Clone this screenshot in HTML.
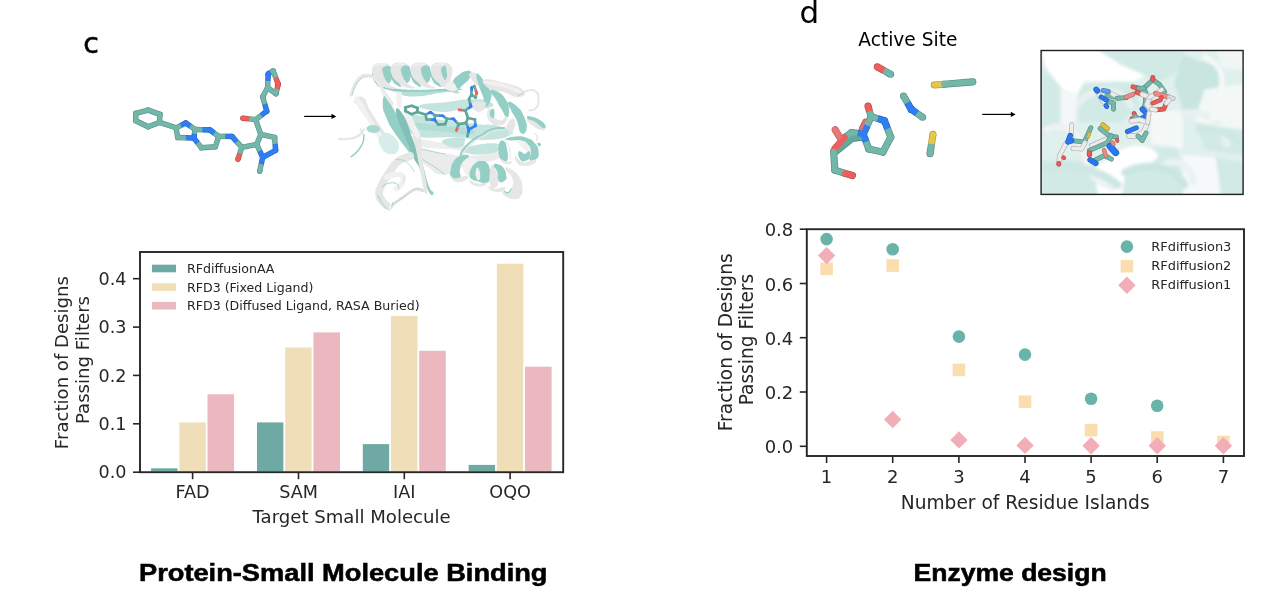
<!DOCTYPE html>
<html lang="en"><head><meta charset="utf-8"><title>Figure panels c and d</title>
<style>
html,body{margin:0;padding:0;background:#fff;}
body{width:1280px;height:604px;overflow:hidden;}
svg{display:block;filter:blur(0.45px);}
text{font-family:"DejaVu Sans","Liberation Sans",sans-serif;fill:#262626;}
.tk{font-size:17.6px;}
.tk2{font-size:18px;}
.al{font-size:18.1px;}
.al2{font-size:18.6px;}
.lg{font-size:12.6px;}
.lg2{font-size:12.95px;}
.ttl{font-family:"Liberation Sans","DejaVu Sans",sans-serif;font-weight:700;font-size:24px;fill:#000;stroke:#000;stroke-width:0.55px;}
.pl{font-family:"DejaVu Sans","Liberation Sans",sans-serif;fill:#000;}
</style></head><body>
<svg width="1280" height="604" viewBox="0 0 1280 604">
<defs>
<filter id="soft" x="-5%" y="-5%" width="110%" height="110%"><feGaussianBlur stdDeviation="0.6"/></filter>
<filter id="soft2" x="-5%" y="-5%" width="110%" height="110%"><feGaussianBlur stdDeviation="2.4"/></filter>
<filter id="soft3" x="-5%" y="-5%" width="110%" height="110%"><feGaussianBlur stdDeviation="6"/></filter>
<clipPath id="boxclip"><rect x="1041" y="50.5" width="202" height="144"/></clipPath>
</defs>
<rect width="1280" height="604" fill="#fff"/>

<text class="pl" x="83.3" y="53" font-size="28.5" stroke="#000" stroke-width="0.5">c</text>
<text class="pl" x="799.6" y="23" font-size="31">d</text>
<text class="pl" x="858.3" y="45.6" font-size="18.6">Active Site</text>
<g id="bars">
<rect x="150.3" y="467.5" width="28.2" height="4.7" fill="#6fa9a3" stroke="#fff" stroke-width="1.6"/>
<rect x="178.5" y="421.6" width="28.2" height="50.6" fill="#f0deb9" stroke="#fff" stroke-width="1.6"/>
<rect x="206.7" y="393.5" width="28.2" height="78.7" fill="#ecb8bf" stroke="#fff" stroke-width="1.6"/>
<rect x="256.2" y="421.6" width="28.2" height="50.6" fill="#6fa9a3" stroke="#fff" stroke-width="1.6"/>
<rect x="284.4" y="346.6" width="28.2" height="125.6" fill="#f0deb9" stroke="#fff" stroke-width="1.6"/>
<rect x="312.6" y="331.6" width="28.2" height="140.6" fill="#ecb8bf" stroke="#fff" stroke-width="1.6"/>
<rect x="362.0" y="443.3" width="28.2" height="28.9" fill="#6fa9a3" stroke="#fff" stroke-width="1.6"/>
<rect x="390.2" y="315.1" width="28.2" height="157.1" fill="#f0deb9" stroke="#fff" stroke-width="1.6"/>
<rect x="418.4" y="350.0" width="28.2" height="122.2" fill="#ecb8bf" stroke="#fff" stroke-width="1.6"/>
<rect x="467.8" y="464.1" width="28.2" height="8.1" fill="#6fa9a3" stroke="#fff" stroke-width="1.6"/>
<rect x="496.0" y="262.9" width="28.2" height="209.3" fill="#f0deb9" stroke="#fff" stroke-width="1.6"/>
<rect x="524.2" y="365.9" width="28.2" height="106.3" fill="#ecb8bf" stroke="#fff" stroke-width="1.6"/>
</g>
<rect x="140.0" y="252.0" width="423.2" height="220.2" fill="none" stroke="#262626" stroke-width="1.9"/>
<line x1="133.0" y1="472.2" x2="140.0" y2="472.2" stroke="#262626" stroke-width="1.6"/>
<text class="tk" x="126.5" y="478.4" text-anchor="end">0.0</text>
<line x1="133.0" y1="423.8" x2="140.0" y2="423.8" stroke="#262626" stroke-width="1.6"/>
<text class="tk" x="126.5" y="430.0" text-anchor="end">0.1</text>
<line x1="133.0" y1="375.4" x2="140.0" y2="375.4" stroke="#262626" stroke-width="1.6"/>
<text class="tk" x="126.5" y="381.6" text-anchor="end">0.2</text>
<line x1="133.0" y1="327.1" x2="140.0" y2="327.1" stroke="#262626" stroke-width="1.6"/>
<text class="tk" x="126.5" y="333.3" text-anchor="end">0.3</text>
<line x1="133.0" y1="278.7" x2="140.0" y2="278.7" stroke="#262626" stroke-width="1.6"/>
<text class="tk" x="126.5" y="284.9" text-anchor="end">0.4</text>
<line x1="192.6" y1="472.2" x2="192.6" y2="479.2" stroke="#262626" stroke-width="1.6"/>
<text class="tk" x="192.6" y="498.0" text-anchor="middle">FAD</text>
<line x1="298.5" y1="472.2" x2="298.5" y2="479.2" stroke="#262626" stroke-width="1.6"/>
<text class="tk" x="298.5" y="498.0" text-anchor="middle">SAM</text>
<line x1="404.3" y1="472.2" x2="404.3" y2="479.2" stroke="#262626" stroke-width="1.6"/>
<text class="tk" x="404.3" y="498.0" text-anchor="middle">IAI</text>
<line x1="510.1" y1="472.2" x2="510.1" y2="479.2" stroke="#262626" stroke-width="1.6"/>
<text class="tk" x="510.1" y="498.0" text-anchor="middle">OQO</text>
<text class="al" x="351.6" y="523.0" text-anchor="middle">Target Small Molecule</text>
<text class="al" transform="translate(68.3,362.6) rotate(-90)" text-anchor="middle">Fraction of Designs</text>
<text class="al" transform="translate(88.8,360.0) rotate(-90)" text-anchor="middle">Passing Filters</text>
<rect x="152" y="264.7" width="24" height="7.6" fill="#6fa9a3"/>
<text class="lg" x="187" y="273.0">RFdiffusionAA</text>
<rect x="152" y="283.3" width="24" height="7.6" fill="#f0deb9"/>
<text class="lg" x="187" y="291.6">RFD3 (Fixed Ligand)</text>
<rect x="152" y="301.9" width="24" height="7.6" fill="#ecb8bf"/>
<text class="lg" x="187" y="310.2">RFD3 (Diffused Ligand, RASA Buried)</text>
<text class="ttl" x="139" y="580.8" textLength="408.5" lengthAdjust="spacingAndGlyphs">Protein-Small Molecule Binding</text>
<rect x="806.8" y="229.2" width="437.2" height="226.8" fill="none" stroke="#262626" stroke-width="1.9"/>
<g id="pts">
<circle cx="826.6" cy="239.1" r="6.3" fill="#69b3a9"/>
<circle cx="892.7" cy="249.2" r="6.3" fill="#69b3a9"/>
<circle cx="958.9" cy="336.6" r="6.3" fill="#69b3a9"/>
<circle cx="1025.0" cy="354.6" r="6.3" fill="#69b3a9"/>
<circle cx="1091.1" cy="398.8" r="6.3" fill="#69b3a9"/>
<circle cx="1157.2" cy="405.7" r="6.3" fill="#69b3a9"/>
<rect x="820.3" y="262.5" width="12.6" height="12.6" fill="#fbdeb0"/>
<rect x="886.4" y="259.3" width="12.6" height="12.6" fill="#fbdeb0"/>
<rect x="952.6" y="363.6" width="12.6" height="12.6" fill="#fbdeb0"/>
<rect x="1018.7" y="395.4" width="12.6" height="12.6" fill="#fbdeb0"/>
<rect x="1084.8" y="423.8" width="12.6" height="12.6" fill="#fbdeb0"/>
<rect x="1151.0" y="431.2" width="12.6" height="12.6" fill="#fbdeb0"/>
<rect x="1217.1" y="435.7" width="12.6" height="12.6" fill="#fbdeb0"/>
<path d="M826.6 246.9L835.3 255.6L826.6 264.3L817.9 255.6Z" fill="#f3adb7"/>
<path d="M892.7 410.8L901.4 419.5L892.7 428.2L884.0 419.5Z" fill="#f3adb7"/>
<path d="M958.9 431.2L967.6 439.9L958.9 448.6L950.2 439.9Z" fill="#f3adb7"/>
<path d="M1025.0 436.7L1033.7 445.4L1025.0 454.1L1016.3 445.4Z" fill="#f3adb7"/>
<path d="M1091.1 437.0L1099.8 445.7L1091.1 454.4L1082.4 445.7Z" fill="#f3adb7"/>
<path d="M1157.2 437.0L1166.0 445.7L1157.2 454.4L1148.5 445.7Z" fill="#f3adb7"/>
<path d="M1223.4 437.0L1232.1 445.7L1223.4 454.4L1214.7 445.7Z" fill="#f3adb7"/>
</g>
<line x1="799.8" y1="446.3" x2="806.8" y2="446.3" stroke="#262626" stroke-width="1.6"/>
<text class="tk2" x="793.3" y="453.3" text-anchor="end">0.0</text>
<line x1="799.8" y1="392.0" x2="806.8" y2="392.0" stroke="#262626" stroke-width="1.6"/>
<text class="tk2" x="793.3" y="399.0" text-anchor="end">0.2</text>
<line x1="799.8" y1="337.7" x2="806.8" y2="337.7" stroke="#262626" stroke-width="1.6"/>
<text class="tk2" x="793.3" y="344.7" text-anchor="end">0.4</text>
<line x1="799.8" y1="283.5" x2="806.8" y2="283.5" stroke="#262626" stroke-width="1.6"/>
<text class="tk2" x="793.3" y="290.5" text-anchor="end">0.6</text>
<line x1="799.8" y1="229.2" x2="806.8" y2="229.2" stroke="#262626" stroke-width="1.6"/>
<text class="tk2" x="793.3" y="236.2" text-anchor="end">0.8</text>
<line x1="826.6" y1="456.0" x2="826.6" y2="463.0" stroke="#262626" stroke-width="1.6"/>
<text class="tk2" x="826.6" y="483.2" text-anchor="middle">1</text>
<line x1="892.7" y1="456.0" x2="892.7" y2="463.0" stroke="#262626" stroke-width="1.6"/>
<text class="tk2" x="892.7" y="483.2" text-anchor="middle">2</text>
<line x1="958.9" y1="456.0" x2="958.9" y2="463.0" stroke="#262626" stroke-width="1.6"/>
<text class="tk2" x="958.9" y="483.2" text-anchor="middle">3</text>
<line x1="1025.0" y1="456.0" x2="1025.0" y2="463.0" stroke="#262626" stroke-width="1.6"/>
<text class="tk2" x="1025.0" y="483.2" text-anchor="middle">4</text>
<line x1="1091.1" y1="456.0" x2="1091.1" y2="463.0" stroke="#262626" stroke-width="1.6"/>
<text class="tk2" x="1091.1" y="483.2" text-anchor="middle">5</text>
<line x1="1157.2" y1="456.0" x2="1157.2" y2="463.0" stroke="#262626" stroke-width="1.6"/>
<text class="tk2" x="1157.2" y="483.2" text-anchor="middle">6</text>
<line x1="1223.4" y1="456.0" x2="1223.4" y2="463.0" stroke="#262626" stroke-width="1.6"/>
<text class="tk2" x="1223.4" y="483.2" text-anchor="middle">7</text>
<text class="al2" x="1025.2" y="508.9" text-anchor="middle">Number of Residue Islands</text>
<text class="al2" transform="translate(731.7,342.3) rotate(-90)" text-anchor="middle">Fraction of Designs</text>
<text class="al2" transform="translate(752.9,339.6) rotate(-90)" text-anchor="middle">Passing Filters</text>
<circle cx="1126.9" cy="246.6" r="6.3" fill="#69b3a9"/>
<rect x="1120.6" y="259.9" width="12.6" height="12.6" fill="#fbdeb0"/>
<path d="M1126.9 276.5L1135.6 285.2L1126.9 293.9L1118.2 285.2Z" fill="#f3adb7"/>
<text class="lg2" x="1151.3" y="250.5">RFdiffusion3</text>
<text class="lg2" x="1151.3" y="269.6">RFdiffusion2</text>
<text class="lg2" x="1151.3" y="288.7">RFdiffusion1</text>
<text class="ttl" x="913.6" y="581.4" textLength="193" lengthAdjust="spacingAndGlyphs">Enzyme design</text>
<line x1="304.2" y1="116.4" x2="333.3" y2="116.4" stroke="#000" stroke-width="1.2"/><path d="M336.3 116.4L331.5 113.8L331.5 119.0Z" fill="#000"/>
<line x1="982.2" y1="114.4" x2="1012.6" y2="114.4" stroke="#000" stroke-width="1.2"/><path d="M1015.6 114.4L1010.8 111.8L1010.8 117.0Z" fill="#000"/>
<g id="ligand" filter="url(#soft)">
<line x1="135.8" y1="113.3" x2="148.1" y2="110.1" stroke="#588e84" stroke-width="5.4" stroke-linecap="round"/>
<line x1="148.1" y1="110.1" x2="160.0" y2="114.4" stroke="#588e84" stroke-width="5.4" stroke-linecap="round"/>
<line x1="160.0" y1="114.4" x2="159.4" y2="122.4" stroke="#588e84" stroke-width="5.4" stroke-linecap="round"/>
<line x1="159.4" y1="122.4" x2="148.1" y2="126.8" stroke="#588e84" stroke-width="5.4" stroke-linecap="round"/>
<line x1="148.1" y1="126.8" x2="135.8" y2="120.8" stroke="#588e84" stroke-width="5.4" stroke-linecap="round"/>
<line x1="135.8" y1="120.8" x2="135.8" y2="113.3" stroke="#588e84" stroke-width="5.4" stroke-linecap="round"/>
<line x1="159.4" y1="122.4" x2="176.1" y2="127.8" stroke="#588e84" stroke-width="5.4" stroke-linecap="round"/>
<circle cx="176.1" cy="127.8" r="2.70" fill="#588e84"/><circle cx="185.8" cy="123.0" r="2.70" fill="#2462be"/><line x1="176.1" y1="127.8" x2="181.1" y2="125.3" stroke="#588e84" stroke-width="5.4" stroke-linecap="butt"/><line x1="180.9" y1="125.4" x2="185.8" y2="123.0" stroke="#2462be" stroke-width="5.4" stroke-linecap="butt"/>
<circle cx="185.8" cy="123.0" r="2.70" fill="#2462be"/><circle cx="195.0" cy="129.4" r="2.70" fill="#588e84"/><line x1="185.8" y1="123.0" x2="190.5" y2="126.3" stroke="#2462be" stroke-width="5.4" stroke-linecap="butt"/><line x1="190.4" y1="126.2" x2="195.0" y2="129.4" stroke="#588e84" stroke-width="5.4" stroke-linecap="butt"/>
<circle cx="195.0" cy="129.4" r="2.70" fill="#588e84"/><circle cx="193.9" cy="138.1" r="2.70" fill="#2462be"/><line x1="195.0" y1="129.4" x2="194.4" y2="133.9" stroke="#588e84" stroke-width="5.4" stroke-linecap="butt"/><line x1="194.4" y1="133.8" x2="193.9" y2="138.1" stroke="#2462be" stroke-width="5.4" stroke-linecap="butt"/>
<circle cx="193.9" cy="138.1" r="2.70" fill="#2462be"/><circle cx="177.7" cy="137.5" r="2.70" fill="#588e84"/><line x1="193.9" y1="138.1" x2="185.7" y2="137.8" stroke="#2462be" stroke-width="5.4" stroke-linecap="butt"/><line x1="185.8" y1="137.8" x2="177.7" y2="137.5" stroke="#588e84" stroke-width="5.4" stroke-linecap="butt"/>
<line x1="177.7" y1="137.5" x2="176.1" y2="127.8" stroke="#588e84" stroke-width="5.4" stroke-linecap="round"/>
<circle cx="195.0" cy="129.4" r="2.70" fill="#588e84"/><circle cx="210.0" cy="130.0" r="2.70" fill="#2462be"/><line x1="195.0" y1="129.4" x2="202.6" y2="129.7" stroke="#588e84" stroke-width="5.4" stroke-linecap="butt"/><line x1="202.5" y1="129.7" x2="210.0" y2="130.0" stroke="#2462be" stroke-width="5.4" stroke-linecap="butt"/>
<circle cx="210.0" cy="130.0" r="2.70" fill="#2462be"/><circle cx="218.7" cy="136.4" r="2.70" fill="#588e84"/><line x1="210.0" y1="130.0" x2="214.5" y2="133.3" stroke="#2462be" stroke-width="5.4" stroke-linecap="butt"/><line x1="214.3" y1="133.2" x2="218.7" y2="136.4" stroke="#588e84" stroke-width="5.4" stroke-linecap="butt"/>
<line x1="218.7" y1="136.4" x2="215.4" y2="146.7" stroke="#588e84" stroke-width="5.4" stroke-linecap="round"/>
<line x1="215.4" y1="146.7" x2="201.4" y2="147.7" stroke="#588e84" stroke-width="5.4" stroke-linecap="round"/>
<circle cx="201.4" cy="147.7" r="2.70" fill="#588e84"/><circle cx="193.9" cy="138.1" r="2.70" fill="#2462be"/><line x1="201.4" y1="147.7" x2="197.6" y2="142.8" stroke="#588e84" stroke-width="5.4" stroke-linecap="butt"/><line x1="197.7" y1="142.9" x2="193.9" y2="138.1" stroke="#2462be" stroke-width="5.4" stroke-linecap="butt"/>
<circle cx="218.7" cy="136.4" r="2.70" fill="#588e84"/><circle cx="231.9" cy="136.4" r="2.70" fill="#2462be"/><line x1="218.7" y1="136.4" x2="225.5" y2="136.4" stroke="#588e84" stroke-width="5.4" stroke-linecap="butt"/><line x1="225.3" y1="136.4" x2="231.9" y2="136.4" stroke="#2462be" stroke-width="5.4" stroke-linecap="butt"/>
<circle cx="231.9" cy="136.4" r="2.70" fill="#2462be"/><circle cx="241.8" cy="147.3" r="2.70" fill="#588e84"/><line x1="231.9" y1="136.4" x2="237.0" y2="142.0" stroke="#2462be" stroke-width="5.4" stroke-linecap="butt"/><line x1="236.9" y1="141.9" x2="241.8" y2="147.3" stroke="#588e84" stroke-width="5.4" stroke-linecap="butt"/>
<circle cx="241.8" cy="147.3" r="2.70" fill="#588e84"/><circle cx="237.9" cy="159.3" r="2.70" fill="#b84a47"/><line x1="241.8" y1="147.3" x2="239.8" y2="153.4" stroke="#588e84" stroke-width="5.4" stroke-linecap="butt"/><line x1="239.9" y1="153.3" x2="237.9" y2="159.3" stroke="#b84a47" stroke-width="5.4" stroke-linecap="butt"/>
<line x1="241.8" y1="147.3" x2="256.7" y2="144.4" stroke="#588e84" stroke-width="5.4" stroke-linecap="round"/>
<line x1="256.7" y1="144.4" x2="260.7" y2="134.4" stroke="#588e84" stroke-width="5.4" stroke-linecap="round"/>
<line x1="260.7" y1="134.4" x2="274.6" y2="137.4" stroke="#588e84" stroke-width="5.4" stroke-linecap="round"/>
<circle cx="274.6" cy="137.4" r="2.70" fill="#588e84"/><circle cx="275.6" cy="150.3" r="2.70" fill="#2462be"/><line x1="274.6" y1="137.4" x2="275.1" y2="144.0" stroke="#588e84" stroke-width="5.4" stroke-linecap="butt"/><line x1="275.1" y1="143.9" x2="275.6" y2="150.3" stroke="#2462be" stroke-width="5.4" stroke-linecap="butt"/>
<line x1="275.6" y1="150.3" x2="262.7" y2="157.3" stroke="#2462be" stroke-width="5.4" stroke-linecap="round"/>
<circle cx="262.7" cy="157.3" r="2.70" fill="#2462be"/><circle cx="256.7" cy="144.4" r="2.70" fill="#588e84"/><line x1="262.7" y1="157.3" x2="259.6" y2="150.7" stroke="#2462be" stroke-width="5.4" stroke-linecap="butt"/><line x1="259.7" y1="150.9" x2="256.7" y2="144.4" stroke="#588e84" stroke-width="5.4" stroke-linecap="butt"/>
<circle cx="262.7" cy="157.3" r="2.70" fill="#2462be"/><circle cx="259.7" cy="171.2" r="2.70" fill="#588e84"/><line x1="262.7" y1="157.3" x2="261.2" y2="164.4" stroke="#2462be" stroke-width="5.4" stroke-linecap="butt"/><line x1="261.2" y1="164.2" x2="259.7" y2="171.2" stroke="#588e84" stroke-width="5.4" stroke-linecap="butt"/>
<line x1="260.7" y1="134.4" x2="255.7" y2="119.6" stroke="#588e84" stroke-width="5.4" stroke-linecap="round"/>
<circle cx="255.7" cy="119.6" r="2.70" fill="#588e84"/><circle cx="242.8" cy="118.2" r="2.70" fill="#b84a47"/><line x1="255.7" y1="119.6" x2="249.1" y2="118.9" stroke="#588e84" stroke-width="5.4" stroke-linecap="butt"/><line x1="249.2" y1="118.9" x2="242.8" y2="118.2" stroke="#b84a47" stroke-width="5.4" stroke-linecap="butt"/>
<circle cx="255.7" cy="119.6" r="2.70" fill="#588e84"/><circle cx="266.7" cy="111.2" r="2.70" fill="#2462be"/><line x1="255.7" y1="119.6" x2="261.3" y2="115.3" stroke="#588e84" stroke-width="5.4" stroke-linecap="butt"/><line x1="261.2" y1="115.4" x2="266.7" y2="111.2" stroke="#2462be" stroke-width="5.4" stroke-linecap="butt"/>
<circle cx="266.7" cy="111.2" r="2.70" fill="#2462be"/><circle cx="262.7" cy="96.7" r="2.70" fill="#588e84"/><line x1="266.7" y1="111.2" x2="264.7" y2="103.8" stroke="#2462be" stroke-width="5.4" stroke-linecap="butt"/><line x1="264.7" y1="104.0" x2="262.7" y2="96.7" stroke="#588e84" stroke-width="5.4" stroke-linecap="butt"/>
<line x1="262.7" y1="96.7" x2="267.6" y2="87.8" stroke="#588e84" stroke-width="5.4" stroke-linecap="round"/>
<circle cx="267.6" cy="87.8" r="2.70" fill="#588e84"/><circle cx="268.2" cy="73.9" r="2.70" fill="#2462be"/><line x1="267.6" y1="87.8" x2="267.9" y2="80.7" stroke="#588e84" stroke-width="5.4" stroke-linecap="butt"/><line x1="267.9" y1="80.8" x2="268.2" y2="73.9" stroke="#2462be" stroke-width="5.4" stroke-linecap="butt"/>
<circle cx="268.2" cy="73.9" r="2.70" fill="#2462be"/><circle cx="273.2" cy="70.9" r="2.70" fill="#588e84"/><line x1="268.2" y1="73.9" x2="270.8" y2="72.3" stroke="#2462be" stroke-width="5.4" stroke-linecap="butt"/><line x1="270.7" y1="72.4" x2="273.2" y2="70.9" stroke="#588e84" stroke-width="5.4" stroke-linecap="butt"/>
<circle cx="273.2" cy="70.9" r="2.70" fill="#588e84"/><circle cx="278.2" cy="84.2" r="2.70" fill="#b84a47"/><line x1="273.2" y1="70.9" x2="275.8" y2="77.7" stroke="#588e84" stroke-width="5.4" stroke-linecap="butt"/><line x1="275.7" y1="77.6" x2="278.2" y2="84.2" stroke="#b84a47" stroke-width="5.4" stroke-linecap="butt"/>
<circle cx="278.2" cy="84.2" r="2.70" fill="#b84a47"/><circle cx="276.0" cy="93.7" r="2.70" fill="#588e84"/><line x1="278.2" y1="84.2" x2="277.1" y2="89.1" stroke="#b84a47" stroke-width="5.4" stroke-linecap="butt"/><line x1="277.1" y1="89.0" x2="276.0" y2="93.7" stroke="#588e84" stroke-width="5.4" stroke-linecap="butt"/>
<line x1="276.0" y1="93.7" x2="267.6" y2="87.8" stroke="#588e84" stroke-width="5.4" stroke-linecap="round"/>
<line x1="135.8" y1="113.3" x2="148.1" y2="110.1" stroke="#72b7aa" stroke-width="4.2" stroke-linecap="round"/>
<line x1="148.1" y1="110.1" x2="160.0" y2="114.4" stroke="#72b7aa" stroke-width="4.2" stroke-linecap="round"/>
<line x1="160.0" y1="114.4" x2="159.4" y2="122.4" stroke="#72b7aa" stroke-width="4.2" stroke-linecap="round"/>
<line x1="159.4" y1="122.4" x2="148.1" y2="126.8" stroke="#72b7aa" stroke-width="4.2" stroke-linecap="round"/>
<line x1="148.1" y1="126.8" x2="135.8" y2="120.8" stroke="#72b7aa" stroke-width="4.2" stroke-linecap="round"/>
<line x1="135.8" y1="120.8" x2="135.8" y2="113.3" stroke="#72b7aa" stroke-width="4.2" stroke-linecap="round"/>
<line x1="159.4" y1="122.4" x2="176.1" y2="127.8" stroke="#72b7aa" stroke-width="4.2" stroke-linecap="round"/>
<circle cx="176.1" cy="127.8" r="2.10" fill="#72b7aa"/><circle cx="185.8" cy="123.0" r="2.10" fill="#2f7ef4"/><line x1="176.1" y1="127.8" x2="181.1" y2="125.3" stroke="#72b7aa" stroke-width="4.2" stroke-linecap="butt"/><line x1="180.9" y1="125.4" x2="185.8" y2="123.0" stroke="#2f7ef4" stroke-width="4.2" stroke-linecap="butt"/>
<circle cx="185.8" cy="123.0" r="2.10" fill="#2f7ef4"/><circle cx="195.0" cy="129.4" r="2.10" fill="#72b7aa"/><line x1="185.8" y1="123.0" x2="190.5" y2="126.3" stroke="#2f7ef4" stroke-width="4.2" stroke-linecap="butt"/><line x1="190.4" y1="126.2" x2="195.0" y2="129.4" stroke="#72b7aa" stroke-width="4.2" stroke-linecap="butt"/>
<circle cx="195.0" cy="129.4" r="2.10" fill="#72b7aa"/><circle cx="193.9" cy="138.1" r="2.10" fill="#2f7ef4"/><line x1="195.0" y1="129.4" x2="194.4" y2="133.9" stroke="#72b7aa" stroke-width="4.2" stroke-linecap="butt"/><line x1="194.4" y1="133.8" x2="193.9" y2="138.1" stroke="#2f7ef4" stroke-width="4.2" stroke-linecap="butt"/>
<circle cx="193.9" cy="138.1" r="2.10" fill="#2f7ef4"/><circle cx="177.7" cy="137.5" r="2.10" fill="#72b7aa"/><line x1="193.9" y1="138.1" x2="185.7" y2="137.8" stroke="#2f7ef4" stroke-width="4.2" stroke-linecap="butt"/><line x1="185.8" y1="137.8" x2="177.7" y2="137.5" stroke="#72b7aa" stroke-width="4.2" stroke-linecap="butt"/>
<line x1="177.7" y1="137.5" x2="176.1" y2="127.8" stroke="#72b7aa" stroke-width="4.2" stroke-linecap="round"/>
<circle cx="195.0" cy="129.4" r="2.10" fill="#72b7aa"/><circle cx="210.0" cy="130.0" r="2.10" fill="#2f7ef4"/><line x1="195.0" y1="129.4" x2="202.6" y2="129.7" stroke="#72b7aa" stroke-width="4.2" stroke-linecap="butt"/><line x1="202.5" y1="129.7" x2="210.0" y2="130.0" stroke="#2f7ef4" stroke-width="4.2" stroke-linecap="butt"/>
<circle cx="210.0" cy="130.0" r="2.10" fill="#2f7ef4"/><circle cx="218.7" cy="136.4" r="2.10" fill="#72b7aa"/><line x1="210.0" y1="130.0" x2="214.5" y2="133.3" stroke="#2f7ef4" stroke-width="4.2" stroke-linecap="butt"/><line x1="214.3" y1="133.2" x2="218.7" y2="136.4" stroke="#72b7aa" stroke-width="4.2" stroke-linecap="butt"/>
<line x1="218.7" y1="136.4" x2="215.4" y2="146.7" stroke="#72b7aa" stroke-width="4.2" stroke-linecap="round"/>
<line x1="215.4" y1="146.7" x2="201.4" y2="147.7" stroke="#72b7aa" stroke-width="4.2" stroke-linecap="round"/>
<circle cx="201.4" cy="147.7" r="2.10" fill="#72b7aa"/><circle cx="193.9" cy="138.1" r="2.10" fill="#2f7ef4"/><line x1="201.4" y1="147.7" x2="197.6" y2="142.8" stroke="#72b7aa" stroke-width="4.2" stroke-linecap="butt"/><line x1="197.7" y1="142.9" x2="193.9" y2="138.1" stroke="#2f7ef4" stroke-width="4.2" stroke-linecap="butt"/>
<circle cx="218.7" cy="136.4" r="2.10" fill="#72b7aa"/><circle cx="231.9" cy="136.4" r="2.10" fill="#2f7ef4"/><line x1="218.7" y1="136.4" x2="225.5" y2="136.4" stroke="#72b7aa" stroke-width="4.2" stroke-linecap="butt"/><line x1="225.3" y1="136.4" x2="231.9" y2="136.4" stroke="#2f7ef4" stroke-width="4.2" stroke-linecap="butt"/>
<circle cx="231.9" cy="136.4" r="2.10" fill="#2f7ef4"/><circle cx="241.8" cy="147.3" r="2.10" fill="#72b7aa"/><line x1="231.9" y1="136.4" x2="237.0" y2="142.0" stroke="#2f7ef4" stroke-width="4.2" stroke-linecap="butt"/><line x1="236.9" y1="141.9" x2="241.8" y2="147.3" stroke="#72b7aa" stroke-width="4.2" stroke-linecap="butt"/>
<circle cx="241.8" cy="147.3" r="2.10" fill="#72b7aa"/><circle cx="237.9" cy="159.3" r="2.10" fill="#ec5f5c"/><line x1="241.8" y1="147.3" x2="239.8" y2="153.4" stroke="#72b7aa" stroke-width="4.2" stroke-linecap="butt"/><line x1="239.9" y1="153.3" x2="237.9" y2="159.3" stroke="#ec5f5c" stroke-width="4.2" stroke-linecap="butt"/>
<line x1="241.8" y1="147.3" x2="256.7" y2="144.4" stroke="#72b7aa" stroke-width="4.2" stroke-linecap="round"/>
<line x1="256.7" y1="144.4" x2="260.7" y2="134.4" stroke="#72b7aa" stroke-width="4.2" stroke-linecap="round"/>
<line x1="260.7" y1="134.4" x2="274.6" y2="137.4" stroke="#72b7aa" stroke-width="4.2" stroke-linecap="round"/>
<circle cx="274.6" cy="137.4" r="2.10" fill="#72b7aa"/><circle cx="275.6" cy="150.3" r="2.10" fill="#2f7ef4"/><line x1="274.6" y1="137.4" x2="275.1" y2="144.0" stroke="#72b7aa" stroke-width="4.2" stroke-linecap="butt"/><line x1="275.1" y1="143.9" x2="275.6" y2="150.3" stroke="#2f7ef4" stroke-width="4.2" stroke-linecap="butt"/>
<line x1="275.6" y1="150.3" x2="262.7" y2="157.3" stroke="#2f7ef4" stroke-width="4.2" stroke-linecap="round"/>
<circle cx="262.7" cy="157.3" r="2.10" fill="#2f7ef4"/><circle cx="256.7" cy="144.4" r="2.10" fill="#72b7aa"/><line x1="262.7" y1="157.3" x2="259.6" y2="150.7" stroke="#2f7ef4" stroke-width="4.2" stroke-linecap="butt"/><line x1="259.7" y1="150.9" x2="256.7" y2="144.4" stroke="#72b7aa" stroke-width="4.2" stroke-linecap="butt"/>
<circle cx="262.7" cy="157.3" r="2.10" fill="#2f7ef4"/><circle cx="259.7" cy="171.2" r="2.10" fill="#72b7aa"/><line x1="262.7" y1="157.3" x2="261.2" y2="164.4" stroke="#2f7ef4" stroke-width="4.2" stroke-linecap="butt"/><line x1="261.2" y1="164.2" x2="259.7" y2="171.2" stroke="#72b7aa" stroke-width="4.2" stroke-linecap="butt"/>
<line x1="260.7" y1="134.4" x2="255.7" y2="119.6" stroke="#72b7aa" stroke-width="4.2" stroke-linecap="round"/>
<circle cx="255.7" cy="119.6" r="2.10" fill="#72b7aa"/><circle cx="242.8" cy="118.2" r="2.10" fill="#ec5f5c"/><line x1="255.7" y1="119.6" x2="249.1" y2="118.9" stroke="#72b7aa" stroke-width="4.2" stroke-linecap="butt"/><line x1="249.2" y1="118.9" x2="242.8" y2="118.2" stroke="#ec5f5c" stroke-width="4.2" stroke-linecap="butt"/>
<circle cx="255.7" cy="119.6" r="2.10" fill="#72b7aa"/><circle cx="266.7" cy="111.2" r="2.10" fill="#2f7ef4"/><line x1="255.7" y1="119.6" x2="261.3" y2="115.3" stroke="#72b7aa" stroke-width="4.2" stroke-linecap="butt"/><line x1="261.2" y1="115.4" x2="266.7" y2="111.2" stroke="#2f7ef4" stroke-width="4.2" stroke-linecap="butt"/>
<circle cx="266.7" cy="111.2" r="2.10" fill="#2f7ef4"/><circle cx="262.7" cy="96.7" r="2.10" fill="#72b7aa"/><line x1="266.7" y1="111.2" x2="264.7" y2="103.8" stroke="#2f7ef4" stroke-width="4.2" stroke-linecap="butt"/><line x1="264.7" y1="104.0" x2="262.7" y2="96.7" stroke="#72b7aa" stroke-width="4.2" stroke-linecap="butt"/>
<line x1="262.7" y1="96.7" x2="267.6" y2="87.8" stroke="#72b7aa" stroke-width="4.2" stroke-linecap="round"/>
<circle cx="267.6" cy="87.8" r="2.10" fill="#72b7aa"/><circle cx="268.2" cy="73.9" r="2.10" fill="#2f7ef4"/><line x1="267.6" y1="87.8" x2="267.9" y2="80.7" stroke="#72b7aa" stroke-width="4.2" stroke-linecap="butt"/><line x1="267.9" y1="80.8" x2="268.2" y2="73.9" stroke="#2f7ef4" stroke-width="4.2" stroke-linecap="butt"/>
<circle cx="268.2" cy="73.9" r="2.10" fill="#2f7ef4"/><circle cx="273.2" cy="70.9" r="2.10" fill="#72b7aa"/><line x1="268.2" y1="73.9" x2="270.8" y2="72.3" stroke="#2f7ef4" stroke-width="4.2" stroke-linecap="butt"/><line x1="270.7" y1="72.4" x2="273.2" y2="70.9" stroke="#72b7aa" stroke-width="4.2" stroke-linecap="butt"/>
<circle cx="273.2" cy="70.9" r="2.10" fill="#72b7aa"/><circle cx="278.2" cy="84.2" r="2.10" fill="#ec5f5c"/><line x1="273.2" y1="70.9" x2="275.8" y2="77.7" stroke="#72b7aa" stroke-width="4.2" stroke-linecap="butt"/><line x1="275.7" y1="77.6" x2="278.2" y2="84.2" stroke="#ec5f5c" stroke-width="4.2" stroke-linecap="butt"/>
<circle cx="278.2" cy="84.2" r="2.10" fill="#ec5f5c"/><circle cx="276.0" cy="93.7" r="2.10" fill="#72b7aa"/><line x1="278.2" y1="84.2" x2="277.1" y2="89.1" stroke="#ec5f5c" stroke-width="4.2" stroke-linecap="butt"/><line x1="277.1" y1="89.0" x2="276.0" y2="93.7" stroke="#72b7aa" stroke-width="4.2" stroke-linecap="butt"/>
<line x1="276.0" y1="93.7" x2="267.6" y2="87.8" stroke="#72b7aa" stroke-width="4.2" stroke-linecap="round"/>
</g>
<g id="active" filter="url(#soft)">
<circle cx="877.3" cy="66.8" r="3.55" fill="#b84a47"/><circle cx="890.6" cy="74.3" r="3.55" fill="#588e84"/><line x1="877.3" y1="66.8" x2="884.1" y2="70.6" stroke="#b84a47" stroke-width="7.1" stroke-linecap="butt"/><line x1="884.0" y1="70.5" x2="890.6" y2="74.3" stroke="#588e84" stroke-width="7.1" stroke-linecap="butt"/>
<line x1="934.3" y1="85.0" x2="944.0" y2="84.2" stroke="#b39c39" stroke-width="7.1" stroke-linecap="round"/>
<line x1="944.0" y1="84.2" x2="972.8" y2="81.9" stroke="#588e84" stroke-width="7.1" stroke-linecap="round"/>
<circle cx="903.5" cy="96.0" r="3.55" fill="#588e84"/><circle cx="911.3" cy="109.4" r="3.55" fill="#2462be"/><line x1="903.5" y1="96.0" x2="907.5" y2="102.8" stroke="#588e84" stroke-width="7.1" stroke-linecap="butt"/><line x1="907.4" y1="102.7" x2="911.3" y2="109.4" stroke="#2462be" stroke-width="7.1" stroke-linecap="butt"/>
<circle cx="911.3" cy="109.4" r="3.55" fill="#2462be"/><circle cx="922.6" cy="117.2" r="3.55" fill="#588e84"/><line x1="911.3" y1="109.4" x2="917.1" y2="113.4" stroke="#2462be" stroke-width="7.1" stroke-linecap="butt"/><line x1="917.0" y1="113.3" x2="922.6" y2="117.2" stroke="#588e84" stroke-width="7.1" stroke-linecap="butt"/>
<circle cx="933.0" cy="134.3" r="3.55" fill="#b39c39"/><circle cx="930.0" cy="153.7" r="3.55" fill="#588e84"/><line x1="933.0" y1="134.3" x2="931.5" y2="144.1" stroke="#b39c39" stroke-width="7.1" stroke-linecap="butt"/><line x1="931.5" y1="144.0" x2="930.0" y2="153.7" stroke="#588e84" stroke-width="7.1" stroke-linecap="butt"/>
<line x1="865.6" y1="122.3" x2="862.5" y2="128.5" stroke="#b45754" stroke-width="7.1" stroke-linecap="round"/>
<line x1="840.5" y1="138.5" x2="835.2" y2="129.8" stroke="#b45e5c" stroke-width="7.1" stroke-linecap="round"/>
<line x1="863.3" y1="137.0" x2="852.0" y2="138.5" stroke="#4d8379" stroke-width="7.1" stroke-linecap="round"/>
<line x1="852.0" y1="138.5" x2="836.5" y2="151.0" stroke="#4d8379" stroke-width="7.1" stroke-linecap="round"/>
<circle cx="871.1" cy="116.7" r="3.55" fill="#588e84"/><circle cx="884.5" cy="120.7" r="3.55" fill="#2462be"/><line x1="871.1" y1="116.7" x2="877.9" y2="118.7" stroke="#588e84" stroke-width="7.1" stroke-linecap="butt"/><line x1="877.8" y1="118.7" x2="884.5" y2="120.7" stroke="#2462be" stroke-width="7.1" stroke-linecap="butt"/>
<circle cx="884.5" cy="120.7" r="3.55" fill="#2462be"/><circle cx="890.8" cy="137.2" r="3.55" fill="#588e84"/><line x1="884.5" y1="120.7" x2="887.7" y2="129.1" stroke="#2462be" stroke-width="7.1" stroke-linecap="butt"/><line x1="887.6" y1="128.9" x2="890.8" y2="137.2" stroke="#588e84" stroke-width="7.1" stroke-linecap="butt"/>
<line x1="890.8" y1="137.2" x2="882.9" y2="152.1" stroke="#588e84" stroke-width="7.1" stroke-linecap="round"/>
<line x1="882.9" y1="152.1" x2="868.8" y2="149.0" stroke="#588e84" stroke-width="7.1" stroke-linecap="round"/>
<circle cx="868.8" cy="149.0" r="3.55" fill="#588e84"/><circle cx="863.3" cy="134.1" r="3.55" fill="#2462be"/><line x1="868.8" y1="149.0" x2="866.0" y2="141.4" stroke="#588e84" stroke-width="7.1" stroke-linecap="butt"/><line x1="866.0" y1="141.6" x2="863.3" y2="134.1" stroke="#2462be" stroke-width="7.1" stroke-linecap="butt"/>
<circle cx="863.3" cy="134.1" r="3.55" fill="#2462be"/><circle cx="871.1" cy="116.7" r="3.55" fill="#588e84"/><line x1="863.3" y1="134.1" x2="867.3" y2="125.3" stroke="#2462be" stroke-width="7.1" stroke-linecap="butt"/><line x1="867.2" y1="125.4" x2="871.1" y2="116.7" stroke="#588e84" stroke-width="7.1" stroke-linecap="butt"/>
<circle cx="871.1" cy="116.7" r="3.55" fill="#588e84"/><circle cx="868.0" cy="106.0" r="3.55" fill="#b84a47"/><line x1="871.1" y1="116.7" x2="869.5" y2="111.2" stroke="#588e84" stroke-width="7.1" stroke-linecap="butt"/><line x1="869.5" y1="111.3" x2="868.0" y2="106.0" stroke="#b84a47" stroke-width="7.1" stroke-linecap="butt"/>
<circle cx="863.3" cy="134.1" r="3.55" fill="#2462be"/><circle cx="851.5" cy="132.5" r="3.55" fill="#588e84"/><line x1="863.3" y1="134.1" x2="857.3" y2="133.3" stroke="#2462be" stroke-width="7.1" stroke-linecap="butt"/><line x1="857.4" y1="133.3" x2="851.5" y2="132.5" stroke="#588e84" stroke-width="7.1" stroke-linecap="butt"/>
<line x1="851.5" y1="132.5" x2="845.0" y2="137.3" stroke="#588e84" stroke-width="7.1" stroke-linecap="round"/>
<line x1="845.0" y1="137.3" x2="835.0" y2="148.5" stroke="#b84a47" stroke-width="7.1" stroke-linecap="round"/>
<line x1="833.6" y1="151.5" x2="834.9" y2="170.2" stroke="#588e84" stroke-width="7.1" stroke-linecap="round"/>
<line x1="834.9" y1="170.2" x2="845.0" y2="173.3" stroke="#588e84" stroke-width="7.1" stroke-linecap="round"/>
<line x1="845.0" y1="173.3" x2="852.5" y2="175.5" stroke="#b84a47" stroke-width="7.1" stroke-linecap="round"/>
<circle cx="877.3" cy="66.8" r="2.85" fill="#ec5f5c"/><circle cx="890.6" cy="74.3" r="2.85" fill="#72b7aa"/><line x1="877.3" y1="66.8" x2="884.1" y2="70.6" stroke="#ec5f5c" stroke-width="5.7" stroke-linecap="butt"/><line x1="884.0" y1="70.5" x2="890.6" y2="74.3" stroke="#72b7aa" stroke-width="5.7" stroke-linecap="butt"/>
<line x1="934.3" y1="85.0" x2="944.0" y2="84.2" stroke="#e6c84a" stroke-width="5.7" stroke-linecap="round"/>
<line x1="944.0" y1="84.2" x2="972.8" y2="81.9" stroke="#72b7aa" stroke-width="5.7" stroke-linecap="round"/>
<circle cx="903.5" cy="96.0" r="2.85" fill="#72b7aa"/><circle cx="911.3" cy="109.4" r="2.85" fill="#2f7ef4"/><line x1="903.5" y1="96.0" x2="907.5" y2="102.8" stroke="#72b7aa" stroke-width="5.7" stroke-linecap="butt"/><line x1="907.4" y1="102.7" x2="911.3" y2="109.4" stroke="#2f7ef4" stroke-width="5.7" stroke-linecap="butt"/>
<circle cx="911.3" cy="109.4" r="2.85" fill="#2f7ef4"/><circle cx="922.6" cy="117.2" r="2.85" fill="#72b7aa"/><line x1="911.3" y1="109.4" x2="917.1" y2="113.4" stroke="#2f7ef4" stroke-width="5.7" stroke-linecap="butt"/><line x1="917.0" y1="113.3" x2="922.6" y2="117.2" stroke="#72b7aa" stroke-width="5.7" stroke-linecap="butt"/>
<circle cx="933.0" cy="134.3" r="2.85" fill="#e6c84a"/><circle cx="930.0" cy="153.7" r="2.85" fill="#72b7aa"/><line x1="933.0" y1="134.3" x2="931.5" y2="144.1" stroke="#e6c84a" stroke-width="5.7" stroke-linecap="butt"/><line x1="931.5" y1="144.0" x2="930.0" y2="153.7" stroke="#72b7aa" stroke-width="5.7" stroke-linecap="butt"/>
<line x1="865.6" y1="122.3" x2="862.5" y2="128.5" stroke="#e8706c" stroke-width="5.7" stroke-linecap="round"/>
<line x1="840.5" y1="138.5" x2="835.2" y2="129.8" stroke="#e87976" stroke-width="5.7" stroke-linecap="round"/>
<line x1="863.3" y1="137.0" x2="852.0" y2="138.5" stroke="#63a89c" stroke-width="5.7" stroke-linecap="round"/>
<line x1="852.0" y1="138.5" x2="836.5" y2="151.0" stroke="#63a89c" stroke-width="5.7" stroke-linecap="round"/>
<circle cx="871.1" cy="116.7" r="2.85" fill="#72b7aa"/><circle cx="884.5" cy="120.7" r="2.85" fill="#2f7ef4"/><line x1="871.1" y1="116.7" x2="877.9" y2="118.7" stroke="#72b7aa" stroke-width="5.7" stroke-linecap="butt"/><line x1="877.8" y1="118.7" x2="884.5" y2="120.7" stroke="#2f7ef4" stroke-width="5.7" stroke-linecap="butt"/>
<circle cx="884.5" cy="120.7" r="2.85" fill="#2f7ef4"/><circle cx="890.8" cy="137.2" r="2.85" fill="#72b7aa"/><line x1="884.5" y1="120.7" x2="887.7" y2="129.1" stroke="#2f7ef4" stroke-width="5.7" stroke-linecap="butt"/><line x1="887.6" y1="128.9" x2="890.8" y2="137.2" stroke="#72b7aa" stroke-width="5.7" stroke-linecap="butt"/>
<line x1="890.8" y1="137.2" x2="882.9" y2="152.1" stroke="#72b7aa" stroke-width="5.7" stroke-linecap="round"/>
<line x1="882.9" y1="152.1" x2="868.8" y2="149.0" stroke="#72b7aa" stroke-width="5.7" stroke-linecap="round"/>
<circle cx="868.8" cy="149.0" r="2.85" fill="#72b7aa"/><circle cx="863.3" cy="134.1" r="2.85" fill="#2f7ef4"/><line x1="868.8" y1="149.0" x2="866.0" y2="141.4" stroke="#72b7aa" stroke-width="5.7" stroke-linecap="butt"/><line x1="866.0" y1="141.6" x2="863.3" y2="134.1" stroke="#2f7ef4" stroke-width="5.7" stroke-linecap="butt"/>
<circle cx="863.3" cy="134.1" r="2.85" fill="#2f7ef4"/><circle cx="871.1" cy="116.7" r="2.85" fill="#72b7aa"/><line x1="863.3" y1="134.1" x2="867.3" y2="125.3" stroke="#2f7ef4" stroke-width="5.7" stroke-linecap="butt"/><line x1="867.2" y1="125.4" x2="871.1" y2="116.7" stroke="#72b7aa" stroke-width="5.7" stroke-linecap="butt"/>
<circle cx="871.1" cy="116.7" r="2.85" fill="#72b7aa"/><circle cx="868.0" cy="106.0" r="2.85" fill="#ec5f5c"/><line x1="871.1" y1="116.7" x2="869.5" y2="111.2" stroke="#72b7aa" stroke-width="5.7" stroke-linecap="butt"/><line x1="869.5" y1="111.3" x2="868.0" y2="106.0" stroke="#ec5f5c" stroke-width="5.7" stroke-linecap="butt"/>
<circle cx="863.3" cy="134.1" r="2.85" fill="#2f7ef4"/><circle cx="851.5" cy="132.5" r="2.85" fill="#72b7aa"/><line x1="863.3" y1="134.1" x2="857.3" y2="133.3" stroke="#2f7ef4" stroke-width="5.7" stroke-linecap="butt"/><line x1="857.4" y1="133.3" x2="851.5" y2="132.5" stroke="#72b7aa" stroke-width="5.7" stroke-linecap="butt"/>
<line x1="851.5" y1="132.5" x2="845.0" y2="137.3" stroke="#72b7aa" stroke-width="5.7" stroke-linecap="round"/>
<line x1="845.0" y1="137.3" x2="835.0" y2="148.5" stroke="#ec5f5c" stroke-width="5.7" stroke-linecap="round"/>
<line x1="833.6" y1="151.5" x2="834.9" y2="170.2" stroke="#72b7aa" stroke-width="5.7" stroke-linecap="round"/>
<line x1="834.9" y1="170.2" x2="845.0" y2="173.3" stroke="#72b7aa" stroke-width="5.7" stroke-linecap="round"/>
<line x1="845.0" y1="173.3" x2="852.5" y2="175.5" stroke="#ec5f5c" stroke-width="5.7" stroke-linecap="round"/>
</g>
<g id="protein" transform="translate(330,50) scale(0.28153)" filter="url(#soft2)" fill="none" stroke-linecap="round" stroke-linejoin="round">
<path d="M320.0 196.0 C335.6 188.9 360.5 191.6 408.5 186.0 C456.5 180.4 458.3 175.9 500.0 175.0 C541.7 174.1 547.7 174.5 565.0 182.5 C582.3 190.5 589.0 197.7 565.0 205.0 C541.0 212.3 516.7 206.0 475.0 210.0 C433.3 214.0 441.8 219.3 408.5 220.0 C375.2 220.7 373.6 218.9 350.0 212.5 C326.4 206.1 304.4 203.1 320.0 196.0 Z" fill="#c4e5df" stroke="none"/>
<path d="M280.0 235.0 C308.9 221.1 349.8 243.3 408.5 250.0 C467.2 256.7 442.3 252.0 500.0 260.0 C557.7 268.0 589.0 268.0 625.0 280.0 C661.0 292.0 655.0 294.3 635.0 305.0 C615.0 315.7 599.3 318.7 550.0 320.0 C500.7 321.3 516.7 314.8 450.0 310.0 C383.3 305.2 345.3 322.0 300.0 302.0 C254.7 282.0 251.1 248.9 280.0 235.0 Z" fill="#c4e5df" stroke="none"/>
<path d="M300.0 260.0 C326.3 257.3 355.2 264.7 408.5 270.0 C461.8 275.3 475.6 272.0 500.0 280.0 C524.4 288.0 526.7 297.3 500.0 300.0 C473.3 302.7 450.7 295.3 400.0 290.0 C349.3 284.7 336.7 288.0 310.0 280.0 C283.3 272.0 273.7 262.7 300.0 260.0 Z" fill="#b3dcd5" stroke="none"/>
<path d="M210.0 135.0 C227.3 133.7 247.1 143.7 300.0 145.0 C352.9 146.3 368.5 140.7 408.5 140.0 C448.5 139.3 438.9 138.5 450.0 142.5 C461.1 146.5 461.1 153.0 450.0 155.0 C438.9 157.0 448.5 147.3 408.5 150.0 C368.5 152.7 346.3 165.0 300.0 165.0 C253.7 165.0 259.0 158.0 235.0 150.0 C211.0 142.0 192.7 136.3 210.0 135.0 Z" fill="#b7ded7" stroke="none"/>
<path d="M320.0 351.9 C342.3 346.6 360.5 360.2 408.5 366.9 C456.5 373.6 451.6 378.2 500.0 376.9 C548.4 375.6 564.7 359.2 590.0 361.9 C615.3 364.6 619.0 374.9 595.0 386.9 C571.0 398.9 549.7 392.2 500.0 406.9 C450.3 421.6 448.5 439.2 408.5 441.9 C368.5 444.6 372.3 431.6 350.0 416.9 C327.7 402.2 333.0 404.2 325.0 386.9 C317.0 369.6 297.7 357.2 320.0 351.9 Z" fill="#ebebeb" stroke="none"/>
<path d="M310.0 316.9 C333.6 314.2 357.8 325.2 408.5 331.9 C459.2 338.6 475.6 335.2 500.0 341.9 C524.4 348.6 524.4 354.2 500.0 356.9 C475.6 359.6 456.5 355.9 408.5 351.9 C360.5 347.9 346.3 351.2 320.0 341.9 C293.7 332.6 286.4 319.6 310.0 316.9 Z" fill="#eeeeee" stroke="none"/>
<path d="M483.5 346.9 C511.5 337.6 562.8 329.2 593.5 331.9 C624.2 334.6 610.5 346.9 598.5 356.9 C586.5 366.9 577.8 366.7 548.5 369.4 C519.2 372.1 505.8 372.9 488.5 366.9 C471.2 360.9 455.5 356.2 483.5 346.9 Z" fill="#c4e5df" stroke="none"/>
<path d="M408.5 316.9 C424.5 310.2 449.8 309.2 468.5 311.9 C487.2 314.6 481.2 317.6 478.5 326.9 C475.8 336.2 477.2 344.2 458.5 346.9 C439.8 349.6 421.8 344.9 408.5 336.9 C395.2 328.9 392.5 323.6 408.5 316.9 Z" fill="#c4e5df" stroke="none"/>
<path d="M325.0 386.9 C337.0 394.2 347.7 399.7 370.0 414.4 C392.3 429.1 398.2 434.6 408.5 441.9" stroke="#94cfc5" stroke-width="3.0"/>
<path d="M320.0 349.4 C332.0 352.5 341.4 355.6 365.0 360.9 C388.6 366.2 396.9 367.1 408.5 369.4" stroke="#94cfc5" stroke-width="2.5"/>
<path d="M85.0 180.0 C89.7 171.3 102.8 159.5 117.5 167.5 C132.2 175.5 127.3 188.0 140.0 210.0 C152.7 232.0 149.0 226.0 165.0 250.0 C181.0 274.0 181.3 273.3 200.0 300.0 C218.7 326.7 232.3 334.0 235.0 350.0 C237.7 366.0 227.3 373.3 210.0 360.0 C192.7 346.7 190.0 329.3 170.0 300.0 C150.0 270.7 153.7 276.7 135.0 250.0 C116.3 223.3 113.3 218.7 100.0 200.0 C86.7 181.3 80.3 188.7 85.0 180.0 Z" fill="#e6e6e6" stroke="none"/>
<path d="M90.0 182.5 C81.3 160.1 91.5 158.0 107.5 176.0 C123.5 194.0 128.0 214.3 150.0 250.0 C172.0 285.7 183.3 292.7 190.0 310.0 C196.7 327.3 188.3 328.3 175.0 315.0 C161.7 301.7 162.7 295.3 140.0 260.0 C117.3 224.7 98.7 204.9 90.0 182.5 Z" fill="#f1f1f1" stroke="none"/>
<path d="M180.0 145.0 C182.0 141.0 185.5 135.3 197.5 150.0 C209.5 164.7 219.0 184.0 225.0 200.0 C231.0 216.0 229.3 219.3 220.0 210.0 C210.7 200.7 200.7 182.3 190.0 165.0 C179.3 147.7 178.0 149.0 180.0 145.0 Z" fill="#f1f1f1" stroke="none"/>
<path d="M235.0 142.5 C239.7 140.5 247.8 127.2 252.5 142.5 C257.2 157.8 255.8 183.3 252.5 200.0 C249.2 216.7 244.7 218.3 240.0 205.0 C235.3 191.7 236.3 166.7 235.0 150.0 C233.7 133.3 230.3 144.5 235.0 142.5 Z" fill="#f1f1f1" stroke="none"/>
<path d="M131.0 274.0 C136.3 267.3 153.0 264.5 165.0 268.0 C177.0 271.5 181.3 280.3 176.0 287.0 C170.7 293.7 157.0 296.5 145.0 293.0 C133.0 289.5 125.7 280.7 131.0 274.0 Z" fill="#a9d9d1" stroke="none"/>
<path d="M107.5 280.0 C109.2 283.3 110.7 286.6 114.0 292.5 C117.3 298.4 118.4 299.5 120.0 302.0" stroke="#e6e6e6" stroke-width="5.0"/>
<path d="M32.5 316.9 C43.8 316.2 55.7 318.4 75.0 314.4 C94.3 310.4 93.0 310.6 105.0 301.9 C117.0 293.2 116.0 287.2 120.0 281.9" stroke="#e6e6e6" stroke-width="8.0"/>
<path d="M120.0 301.9 C119.3 308.6 122.8 312.2 117.5 326.9 C112.2 341.6 111.3 342.9 100.0 356.9 C88.7 370.9 81.7 373.4 75.0 379.4" stroke="#94cfc5" stroke-width="5.0"/>
<path d="M185.0 301.9 C197.0 293.9 204.0 289.9 220.0 301.9 C236.0 313.9 247.7 328.9 245.0 346.9 C242.3 364.9 228.7 373.4 210.0 369.4 C191.3 365.4 181.7 349.9 175.0 331.9 C168.3 313.9 173.0 309.9 185.0 301.9 Z" fill="#d6ede9" stroke="none"/>
<path d="M187.5 190.0 C187.5 170.0 190.0 159.7 200.0 165.0 C210.0 170.3 203.7 173.5 225.0 210.0 C246.3 246.5 254.7 256.7 280.0 302.0 C305.3 347.3 301.3 332.5 320.0 380.0 C338.7 427.5 337.3 446.7 350.0 480.0 C362.7 513.3 366.4 497.3 367.5 505.0 C368.6 512.7 364.0 523.7 354.0 509.0 C344.0 494.3 344.4 481.7 330.0 450.0 C315.6 418.3 325.3 429.5 300.0 390.0 C274.7 350.5 261.7 342.0 235.0 302.0 C208.3 262.0 212.7 269.9 200.0 240.0 C187.3 210.1 187.5 210.0 187.5 190.0 Z" fill="#94cfc5" stroke="none"/>
<path d="M235.0 225.0 C229.7 195.7 244.0 204.7 260.0 230.0 C276.0 255.3 277.7 274.7 295.0 320.0 C312.3 365.3 320.3 377.3 325.0 400.0 C329.7 422.7 324.5 421.0 312.5 405.0 C300.5 389.0 300.7 388.0 280.0 340.0 C259.3 292.0 240.3 254.3 235.0 225.0 Z" fill="#80c0b6" stroke="none"/>
<path d="M295.0 301.9 C299.0 288.6 310.7 275.2 320.0 301.9 C329.3 328.6 323.3 351.2 330.0 401.9 C336.7 452.6 343.7 465.2 345.0 491.9 C346.3 518.6 341.7 519.2 335.0 501.9 C328.3 484.6 328.0 466.9 320.0 426.9 C312.0 386.9 311.7 385.2 305.0 351.9 C298.3 318.6 291.0 315.2 295.0 301.9 Z" fill="#e6e6e6" stroke="none"/>
<path d="M260.0 215.0 C254.7 191.8 269.3 203.0 280.0 215.0 C290.7 227.0 289.3 236.8 300.0 260.0 C310.7 283.2 320.0 290.8 320.0 302.0 C320.0 313.2 316.0 325.2 300.0 302.0 C284.0 278.8 265.3 238.2 260.0 215.0 Z" fill="#f1f1f1" stroke="none"/>
<path d="M285.0 376.9 C273.0 382.2 260.0 380.9 240.0 396.9 C220.0 412.9 224.7 415.6 210.0 436.9 C195.3 458.2 194.3 455.6 185.0 476.9 C175.7 498.2 171.0 496.9 175.0 516.9 C179.0 536.9 193.3 542.6 200.0 551.9" stroke="#e6e6e6" stroke-width="27.5"/>
<path d="M200.0 451.9 C209.3 449.2 219.0 441.9 235.0 441.9 C251.0 441.9 256.0 441.2 260.0 451.9 C264.0 462.6 256.7 471.2 250.0 481.9 C243.3 492.6 239.0 489.2 235.0 491.9" stroke="#f1f1f1" stroke-width="19.0"/>
<path d="M220.0 551.9 C230.7 543.9 238.7 536.6 260.0 521.9 C281.3 507.2 280.7 502.9 300.0 496.9 C319.3 490.9 323.8 498.7 332.5 499.4" stroke="#e6e6e6" stroke-width="11.0"/>
<path d="M185.0 486.9 C190.3 483.6 191.7 477.7 205.0 474.4 C218.3 471.1 224.3 469.7 235.0 474.4 C245.7 479.1 242.3 487.2 245.0 491.9" stroke="#94cfc5" stroke-width="3.0"/>
<path d="M170.0 516.9 C176.7 527.6 183.0 544.2 195.0 556.9 C207.0 569.6 207.7 568.4 215.0 564.4 C222.3 560.4 220.5 547.9 222.5 541.9" stroke="#94cfc5" stroke-width="3.0"/>
<path d="M225.0 546.9 C237.0 538.9 248.7 531.6 270.0 516.9 C291.3 502.2 289.0 495.9 305.0 491.9 C321.0 487.9 323.3 499.2 330.0 501.9" stroke="#94cfc5" stroke-width="2.5"/>
<path d="M235.0 389.4 C244.3 391.4 252.7 385.6 270.0 396.9 C287.3 408.2 292.0 422.6 300.0 431.9" stroke="#94cfc5" stroke-width="2.5"/>
<path d="M257.5 446.9 C259.2 449.6 263.3 450.2 264.0 456.9 C264.7 463.6 261.1 467.9 260.0 471.9" stroke="#d6d6d6" stroke-width="2.5"/>
<path d="M165.0 124.0 C163.7 121.6 174.0 129.3 210.0 134.0 C246.0 138.7 247.1 140.4 300.0 141.5 C352.9 142.6 368.5 139.5 408.5 138.0 C448.5 136.5 438.9 134.7 450.0 136.0 C461.1 137.3 490.0 139.7 450.0 143.0 C410.0 146.3 362.7 148.5 300.0 148.5 C237.3 148.5 251.0 149.5 215.0 143.0 C179.0 136.5 166.3 126.4 165.0 124.0 Z" fill="#94cfc5" stroke="none"/>
<path d="M187.5 62.5 C193.9 56.4 201.3 54.3 210.0 57.0 C218.7 59.7 217.1 62.4 220.0 72.5 C222.9 82.6 223.7 82.9 221.0 95.0 C218.3 107.1 216.3 114.7 210.0 118.0 C203.7 121.3 203.9 117.6 197.5 107.5 C191.1 97.4 188.7 92.0 186.0 80.0 C183.3 68.0 181.1 68.6 187.5 62.5 Z" fill="#94cfc5" stroke="none"/>
<path d="M150.0 67.5 C152.0 60.2 149.5 58.2 157.5 52.5 C165.5 46.8 167.3 46.7 180.0 46.0 C192.7 45.3 197.0 47.3 205.0 50.0 C213.0 52.7 212.0 54.9 210.0 56.0 C208.0 57.1 203.5 52.3 197.5 54.0 C191.5 55.7 190.6 55.6 187.5 62.5 C184.4 69.4 183.3 68.0 186.0 80.0 C188.7 92.0 188.4 94.8 197.5 107.5 C206.6 120.2 209.3 120.2 220.0 127.5 C230.7 134.8 238.8 132.3 237.5 135.0 C236.2 137.7 229.0 140.2 215.0 137.5 C201.0 134.8 199.7 135.0 185.0 125.0 C170.3 115.0 169.3 112.0 160.0 100.0 C150.7 88.0 152.7 88.7 150.0 80.0 C147.3 71.3 148.0 74.8 150.0 67.5 Z" fill="#e6e6e6" stroke="none"/>
<path d="M150.0 80.0 C151.3 78.0 150.7 88.0 160.0 100.0 C169.3 112.0 180.7 117.5 185.0 125.0 C189.3 132.5 184.0 132.7 176.0 128.0 C168.0 123.3 161.9 120.3 155.0 107.5 C148.1 94.7 148.7 82.0 150.0 80.0 Z" fill="#94cfc5" stroke="none"/>
<path d="M160.0 56.0 C164.7 54.4 167.5 51.2 177.5 50.0 C187.5 48.8 192.2 51.1 197.5 51.5" stroke="#f1f1f1" stroke-width="5.0"/>
<path d="M209.0 56.0 C206.1 55.6 203.5 52.6 198.0 54.5 C192.5 56.4 191.4 56.2 188.5 63.0 C185.6 69.8 184.7 68.5 187.0 80.0 C189.3 91.5 194.3 99.1 197.0 106.0" stroke="#d6d6d6" stroke-width="2.0"/>
<path d="M253.5 61.0 C259.9 54.9 267.3 52.8 276.0 55.5 C284.7 58.2 283.1 60.9 286.0 71.0 C288.9 81.1 289.7 81.4 287.0 93.5 C284.3 105.6 282.3 113.2 276.0 116.5 C269.7 119.8 269.9 116.1 263.5 106.0 C257.1 95.9 254.7 90.5 252.0 78.5 C249.3 66.5 247.1 67.1 253.5 61.0 Z" fill="#94cfc5" stroke="none"/>
<path d="M216.0 66.0 C218.0 58.7 215.5 56.7 223.5 51.0 C231.5 45.3 233.3 45.2 246.0 44.5 C258.7 43.8 263.0 45.8 271.0 48.5 C279.0 51.2 278.0 53.4 276.0 54.5 C274.0 55.6 269.5 50.8 263.5 52.5 C257.5 54.2 256.6 54.1 253.5 61.0 C250.4 67.9 249.3 66.5 252.0 78.5 C254.7 90.5 254.4 93.3 263.5 106.0 C272.6 118.7 275.3 118.7 286.0 126.0 C296.7 133.3 304.8 130.8 303.5 133.5 C302.2 136.2 295.0 138.7 281.0 136.0 C267.0 133.3 265.7 133.5 251.0 123.5 C236.3 113.5 235.3 110.5 226.0 98.5 C216.7 86.5 218.7 87.2 216.0 78.5 C213.3 69.8 214.0 73.3 216.0 66.0 Z" fill="#e6e6e6" stroke="none"/>
<path d="M216.0 80.0 C217.3 78.0 216.7 88.0 226.0 100.0 C235.3 112.0 246.7 117.5 251.0 125.0 C255.3 132.5 250.0 132.7 242.0 128.0 C234.0 123.3 227.9 120.3 221.0 107.5 C214.1 94.7 214.7 82.0 216.0 80.0 Z" fill="#94cfc5" stroke="none"/>
<path d="M226.0 56.0 C230.7 54.4 233.5 51.2 243.5 50.0 C253.5 48.8 258.2 51.1 263.5 51.5" stroke="#f1f1f1" stroke-width="5.0"/>
<path d="M275.0 56.0 C272.1 55.6 269.5 52.6 264.0 54.5 C258.5 56.4 257.4 56.2 254.5 63.0 C251.6 69.8 250.7 68.5 253.0 80.0 C255.3 91.5 260.3 99.1 263.0 106.0" stroke="#d6d6d6" stroke-width="2.0"/>
<path d="M324.5 61.0 C330.9 54.9 338.3 52.8 347.0 55.5 C355.7 58.2 354.1 60.9 357.0 71.0 C359.9 81.1 360.7 81.4 358.0 93.5 C355.3 105.6 353.3 113.2 347.0 116.5 C340.7 119.8 340.9 116.1 334.5 106.0 C328.1 95.9 325.7 90.5 323.0 78.5 C320.3 66.5 318.1 67.1 324.5 61.0 Z" fill="#94cfc5" stroke="none"/>
<path d="M287.0 66.0 C289.0 58.7 286.5 56.7 294.5 51.0 C302.5 45.3 304.3 45.2 317.0 44.5 C329.7 43.8 334.0 45.8 342.0 48.5 C350.0 51.2 349.0 53.4 347.0 54.5 C345.0 55.6 340.5 50.8 334.5 52.5 C328.5 54.2 327.6 54.1 324.5 61.0 C321.4 67.9 320.3 66.5 323.0 78.5 C325.7 90.5 325.4 93.3 334.5 106.0 C343.6 118.7 346.3 118.7 357.0 126.0 C367.7 133.3 375.8 130.8 374.5 133.5 C373.2 136.2 366.0 138.7 352.0 136.0 C338.0 133.3 336.7 133.5 322.0 123.5 C307.3 113.5 306.3 110.5 297.0 98.5 C287.7 86.5 289.7 87.2 287.0 78.5 C284.3 69.8 285.0 73.3 287.0 66.0 Z" fill="#e6e6e6" stroke="none"/>
<path d="M287.0 80.0 C288.3 78.0 287.7 88.0 297.0 100.0 C306.3 112.0 317.7 117.5 322.0 125.0 C326.3 132.5 321.0 132.7 313.0 128.0 C305.0 123.3 298.9 120.3 292.0 107.5 C285.1 94.7 285.7 82.0 287.0 80.0 Z" fill="#94cfc5" stroke="none"/>
<path d="M297.0 56.0 C301.7 54.4 304.5 51.2 314.5 50.0 C324.5 48.8 329.2 51.1 334.5 51.5" stroke="#f1f1f1" stroke-width="5.0"/>
<path d="M346.0 56.0 C343.1 55.6 340.5 52.6 335.0 54.5 C329.5 56.4 328.4 56.2 325.5 63.0 C322.6 69.8 321.7 68.5 324.0 80.0 C326.3 91.5 331.3 99.1 334.0 106.0" stroke="#d6d6d6" stroke-width="2.0"/>
<path d="M396.0 61.0 C402.4 54.9 409.8 52.8 418.5 55.5 C427.2 58.2 425.6 60.9 428.5 71.0 C431.4 81.1 432.2 81.4 429.5 93.5 C426.8 105.6 424.8 113.2 418.5 116.5 C412.2 119.8 412.4 116.1 406.0 106.0 C399.6 95.9 397.2 90.5 394.5 78.5 C391.8 66.5 389.6 67.1 396.0 61.0 Z" fill="#94cfc5" stroke="none"/>
<path d="M358.5 66.0 C360.5 58.7 358.0 56.7 366.0 51.0 C374.0 45.3 375.8 45.2 388.5 44.5 C401.2 43.8 405.5 45.8 413.5 48.5 C421.5 51.2 420.5 53.4 418.5 54.5 C416.5 55.6 412.0 50.8 406.0 52.5 C400.0 54.2 399.1 54.1 396.0 61.0 C392.9 67.9 391.8 66.5 394.5 78.5 C397.2 90.5 396.9 93.3 406.0 106.0 C415.1 118.7 417.8 118.7 428.5 126.0 C439.2 133.3 447.3 130.8 446.0 133.5 C444.7 136.2 437.5 138.7 423.5 136.0 C409.5 133.3 408.2 133.5 393.5 123.5 C378.8 113.5 377.8 110.5 368.5 98.5 C359.2 86.5 361.2 87.2 358.5 78.5 C355.8 69.8 356.5 73.3 358.5 66.0 Z" fill="#e6e6e6" stroke="none"/>
<path d="M358.5 80.0 C359.8 78.0 359.2 88.0 368.5 100.0 C377.8 112.0 389.2 117.5 393.5 125.0 C397.8 132.5 392.5 132.7 384.5 128.0 C376.5 123.3 370.4 120.3 363.5 107.5 C356.6 94.7 357.2 82.0 358.5 80.0 Z" fill="#94cfc5" stroke="none"/>
<path d="M368.5 56.0 C373.2 54.4 376.0 51.2 386.0 50.0 C396.0 48.8 400.7 51.1 406.0 51.5" stroke="#f1f1f1" stroke-width="5.0"/>
<path d="M417.5 56.0 C414.6 55.6 412.0 52.6 406.5 54.5 C401.0 56.4 399.9 56.2 397.0 63.0 C394.1 69.8 393.2 68.5 395.5 80.0 C397.8 91.5 402.8 99.1 405.5 106.0" stroke="#d6d6d6" stroke-width="2.0"/>
<path d="M75.0 160.0 C78.3 150.7 78.8 141.7 87.5 125.0 C96.2 108.3 96.2 106.8 107.5 97.5 C118.8 88.2 117.3 90.0 130.0 90.0 C142.7 90.0 143.0 89.5 155.0 97.5 C167.0 105.5 164.3 104.7 175.0 120.0 C185.7 135.3 183.0 136.3 195.0 155.0 C207.0 173.7 213.3 180.7 220.0 190.0" stroke="#e6e6e6" stroke-width="11.0"/>
<path d="M79.0 159.0 C82.2 150.6 82.7 142.7 91.0 127.5 C99.3 112.3 99.3 110.7 110.0 102.0 C120.7 93.3 125.4 96.9 131.0 95.0" stroke="#94cfc5" stroke-width="2.5"/>
<path d="M150.0 98.0 C156.0 103.9 161.2 104.8 172.5 120.0 C183.8 135.2 180.9 136.3 192.5 155.0 C204.1 173.7 209.7 180.7 216.0 190.0" stroke="#f1f1f1" stroke-width="4.0"/>
<path d="M408.5 47.5 C412.5 43.5 421.8 45.0 428.5 55.0 C435.2 65.0 436.2 66.3 433.5 85.0 C430.8 103.7 425.2 113.0 418.5 125.0 C411.8 137.0 415.2 130.0 408.5 130.0 C401.8 130.0 392.2 133.0 393.5 125.0 C394.8 117.0 408.2 114.7 413.5 100.0 C418.8 85.3 414.8 84.0 413.5 70.0 C412.2 56.0 404.5 51.5 408.5 47.5 Z" fill="#e6e6e6" stroke="none"/>
<path d="M408.5 127.5 C411.2 117.5 428.5 108.2 438.5 107.5 C448.5 106.8 441.3 117.0 446.0 125.0 C450.7 133.0 460.7 132.2 456.0 137.5 C451.3 142.8 441.2 147.7 428.5 145.0 C415.8 142.3 405.8 137.5 408.5 127.5 Z" fill="#f1f1f1" stroke="none"/>
<path d="M438.5 107.5 C441.8 97.5 446.5 96.2 458.5 87.5 C470.5 78.8 472.2 77.3 483.5 75.0 C494.8 72.7 497.7 72.3 501.0 79.0 C504.3 85.7 503.3 88.4 496.0 100.0 C488.7 111.6 484.2 112.5 473.5 122.5 C462.8 132.5 463.3 136.8 456.0 137.5 C448.7 138.2 450.7 133.0 446.0 125.0 C441.3 117.0 435.2 117.5 438.5 107.5 Z" fill="#94cfc5" stroke="none"/>
<path d="M496.0 82.5 C502.7 79.2 517.3 76.2 526.0 87.5 C534.7 98.8 531.8 116.3 528.5 125.0 C525.2 133.7 520.8 126.7 513.5 120.0 C506.2 113.3 505.7 110.0 501.0 100.0 C496.3 90.0 489.3 85.8 496.0 82.5 Z" fill="#e6e6e6" stroke="none"/>
<path d="M521.0 85.0 C525.0 79.7 530.8 89.0 543.5 105.0 C556.2 121.0 561.2 126.3 568.5 145.0 C575.8 163.7 575.0 160.3 571.0 175.0 C567.0 189.7 560.8 202.7 553.5 200.0 C546.2 197.3 550.2 185.0 543.5 165.0 C536.8 145.0 534.5 146.3 528.5 125.0 C522.5 103.7 517.0 90.3 521.0 85.0 Z" fill="#94cfc5" stroke="none"/>
<path d="M503.5 190.0 C512.2 182.0 535.8 182.3 548.5 185.0 C561.2 187.7 553.7 191.3 551.0 200.0 C548.3 208.7 547.8 213.5 538.5 217.5 C529.2 221.5 525.3 222.3 516.0 215.0 C506.7 207.7 494.8 198.0 503.5 190.0 Z" fill="#e6e6e6" stroke="none"/>
<path d="M546.0 106.0 C559.3 99.3 585.5 107.1 623.5 117.5 C661.5 127.9 676.5 131.7 688.5 145.0 C700.5 158.3 687.2 166.2 668.5 167.5 C649.8 168.8 643.8 156.7 618.5 150.0 C593.2 143.3 592.8 154.2 573.5 142.5 C554.2 130.8 532.7 112.7 546.0 106.0 Z" fill="#e6e6e6" stroke="none"/>
<path d="M553.5 110.0 C569.5 110.0 590.2 112.9 623.5 122.5 C656.8 132.1 665.8 138.0 678.5 146.0 C691.2 154.0 687.0 155.7 671.0 152.5 C655.0 149.3 647.2 142.0 618.5 134.0 C589.8 126.0 580.8 128.9 563.5 122.5 C546.2 116.1 537.5 110.0 553.5 110.0 Z" fill="#f1f1f1" stroke="none"/>
<path d="M668.5 162.5 C671.8 160.5 675.7 158.7 681.0 155.0 C686.3 151.3 686.5 150.2 688.5 148.5" stroke="#94cfc5" stroke-width="3.0"/>
<path d="M688.5 150.0 C695.2 148.0 701.5 142.5 713.5 142.5 C725.5 142.5 726.2 141.3 733.5 150.0 C740.8 158.7 741.0 160.3 741.0 175.0 C741.0 189.7 742.2 194.3 733.5 205.0 C724.8 215.7 715.2 212.3 708.5 215.0" stroke="#e6e6e6" stroke-width="7.0"/>
<path d="M568.5 145.0 C571.2 138.3 583.8 142.0 598.5 150.0 C613.2 158.0 613.5 159.0 623.5 175.0 C633.5 191.0 634.7 192.7 636.0 210.0 C637.3 227.3 635.8 240.0 628.5 240.0 C621.2 240.0 619.2 227.3 608.5 210.0 C597.8 192.7 599.2 192.3 588.5 175.0 C577.8 157.7 565.8 151.7 568.5 145.0 Z" fill="#94cfc5" stroke="none"/>
<path d="M558.5 220.0 C559.8 208.0 567.5 206.0 573.5 210.0 C579.5 214.0 571.7 224.3 581.0 235.0 C590.3 245.7 597.2 250.0 608.5 250.0 C619.8 250.0 618.2 235.0 623.5 235.0 C628.8 235.0 633.8 241.3 628.5 250.0 C623.2 258.7 619.5 266.2 603.5 267.5 C587.5 268.8 580.5 267.7 568.5 255.0 C556.5 242.3 557.2 232.0 558.5 220.0 Z" fill="#e6e6e6" stroke="none"/>
<path d="M568.5 220.0 C570.5 212.0 577.0 206.0 581.0 210.0 C585.0 214.0 585.5 227.0 583.5 235.0 C581.5 243.0 577.5 244.0 573.5 240.0 C569.5 236.0 566.5 228.0 568.5 220.0 Z" fill="#94cfc5" stroke="none"/>
<path d="M633.5 185.0 C638.8 181.0 648.8 186.7 663.5 200.0 C678.2 213.3 679.2 213.7 688.5 235.0 C697.8 256.3 701.2 264.0 698.5 280.0 C695.8 296.0 687.8 303.0 678.5 295.0 C669.2 287.0 672.8 271.3 663.5 250.0 C654.2 228.7 651.5 232.3 643.5 215.0 C635.5 197.7 628.2 189.0 633.5 185.0 Z" fill="#94cfc5" stroke="none"/>
<path d="M623.5 280.0 C627.5 266.7 634.2 250.3 643.5 245.0 C652.8 239.7 658.5 246.7 658.5 260.0 C658.5 273.3 651.5 285.7 643.5 295.0 C635.5 304.3 633.8 299.0 628.5 295.0 C623.2 291.0 619.5 293.3 623.5 280.0 Z" fill="#e6e6e6" stroke="none"/>
<path d="M703.5 235.0 C708.8 232.3 713.8 240.7 728.5 250.0 C743.2 259.3 751.8 260.7 758.5 270.0 C765.2 279.3 766.8 287.7 753.5 285.0 C740.2 282.3 721.8 273.3 708.5 260.0 C695.2 246.7 698.2 237.7 703.5 235.0 Z" fill="#e6e6e6" stroke="none"/>
<path d="M708.5 235.0 C720.5 236.3 733.2 240.0 748.5 250.0 C763.8 260.0 764.7 265.8 766.0 272.5 C767.3 279.2 763.5 279.7 753.5 275.0 C743.5 270.3 741.8 263.0 728.5 255.0 C715.2 247.0 708.8 250.3 703.5 245.0 C698.2 239.7 696.5 233.7 708.5 235.0 Z" fill="#94cfc5" stroke="none"/>
<path d="M533.5 270.0 C556.2 262.1 584.5 264.0 608.5 272.5 C632.5 281.0 646.2 294.1 623.5 302.0 C600.8 309.9 547.5 310.5 523.5 302.0 C499.5 293.5 510.8 277.9 533.5 270.0 Z" fill="#c4e5df" stroke="none"/>
<path d="M601.0 331.9 C605.7 317.9 611.2 319.1 618.5 324.4 C625.8 329.7 625.2 335.2 628.5 351.9 C631.8 368.6 633.7 375.6 631.0 386.9 C628.3 398.2 626.5 397.1 618.5 394.4 C610.5 391.7 605.7 393.6 601.0 376.9 C596.3 360.2 596.3 345.9 601.0 331.9 Z" fill="#94cfc5" stroke="none"/>
<path d="M606.0 386.9 C608.7 385.6 618.5 394.9 628.5 396.9 C638.5 398.9 640.2 392.4 643.5 394.4 C646.8 396.4 647.7 402.4 641.0 404.4 C634.3 406.4 627.8 406.6 618.5 401.9 C609.2 397.2 603.3 388.2 606.0 386.9 Z" fill="#e6e6e6" stroke="none"/>
<path d="M623.5 321.9 C627.5 329.9 633.8 334.6 638.5 351.9 C643.2 369.2 640.3 377.6 641.0 386.9" stroke="#f1f1f1" stroke-width="6.0"/>
<path d="M623.5 316.9 C626.2 312.9 638.5 308.2 658.5 306.9 C678.5 305.6 679.8 305.2 698.5 311.9 C717.2 318.6 717.2 318.6 728.5 331.9 C739.8 345.2 739.7 347.2 741.0 361.9 C742.3 376.6 742.2 379.6 733.5 386.9 C724.8 394.2 713.8 396.1 708.5 389.4 C703.2 382.7 714.8 375.9 713.5 361.9 C712.2 347.9 712.8 347.6 703.5 336.9 C694.2 326.2 693.2 325.9 678.5 321.9 C663.8 317.9 663.2 323.2 648.5 321.9 C633.8 320.6 620.8 320.9 623.5 316.9 Z" fill="#94cfc5" stroke="none"/>
<path d="M648.5 321.9 C651.2 319.2 663.8 317.9 678.5 321.9 C693.2 325.9 695.5 326.2 703.5 336.9 C711.5 347.6 712.5 357.9 708.5 361.9 C704.5 365.9 699.2 359.9 688.5 351.9 C677.8 343.9 679.2 339.9 668.5 331.9 C657.8 323.9 645.8 324.6 648.5 321.9 Z" fill="#f1f1f1" stroke="none"/>
<path d="M668.5 364.4 C669.8 357.1 675.0 360.6 681.0 361.9 C687.0 363.2 683.7 370.1 691.0 369.4 C698.3 368.7 703.8 356.1 708.5 359.4 C713.2 362.7 712.5 372.6 708.5 381.9 C704.5 391.2 702.2 392.4 693.5 394.4 C684.8 396.4 682.7 397.4 676.0 389.4 C669.3 381.4 667.2 371.7 668.5 364.4 Z" fill="#94cfc5" stroke="none"/>
<path d="M658.5 376.9 C661.2 374.9 664.2 385.9 673.5 391.9 C682.8 397.9 678.8 400.1 693.5 399.4 C708.2 398.7 720.5 388.1 728.5 389.4 C736.5 390.7 734.2 398.4 723.5 404.4 C712.8 410.4 704.5 413.2 688.5 411.9 C672.5 410.6 671.5 408.7 663.5 399.4 C655.5 390.1 655.8 378.9 658.5 376.9 Z" fill="#e6e6e6" stroke="none"/>
<path d="M728.5 296.9 C730.5 299.6 734.7 300.2 736.0 306.9 C737.3 313.6 734.2 317.9 733.5 321.9" stroke="#e6e6e6" stroke-width="5.0"/>
<path d="M736.0 330.9 C737.6 328.5 747.5 330.7 749.5 333.9 C751.5 337.1 747.1 343.7 743.5 342.9 C739.9 342.1 734.4 333.3 736.0 330.9 Z" fill="#94cfc5" stroke="none"/>
<path d="M463.5 376.9 C465.5 371.6 463.0 368.9 471.0 356.9 C479.0 344.9 480.8 343.9 493.5 331.9 C506.2 319.9 506.5 319.9 518.5 311.9 C530.5 303.9 523.8 309.9 538.5 301.9 C553.2 293.9 552.2 288.6 573.5 281.9 C594.8 275.2 606.5 278.2 618.5 276.9" stroke="#94cfc5" stroke-width="7.0"/>
<path d="M469.5 380.9 C471.6 375.6 469.5 372.6 477.5 360.9 C485.5 349.2 487.0 348.6 499.5 336.9 C512.0 325.2 512.5 324.9 524.5 316.9 C536.5 308.9 530.1 314.6 544.5 306.9 C558.9 299.2 558.1 294.3 578.5 287.9 C598.9 281.5 609.7 284.2 621.0 282.9" stroke="#e6e6e6" stroke-width="4.5"/>
<path d="M471.0 401.9 C472.3 384.6 481.5 385.2 493.5 381.9 C505.5 378.6 506.7 380.1 516.0 389.4 C525.3 398.7 526.5 401.6 528.5 416.9 C530.5 432.2 534.2 438.9 523.5 446.9 C512.8 454.9 502.5 458.9 488.5 446.9 C474.5 434.9 469.7 419.2 471.0 401.9 Z" fill="#f1f1f1" stroke="none"/>
<path d="M428.5 426.9 C431.2 413.6 429.2 410.2 438.5 396.9 C447.8 383.6 448.8 382.2 463.5 376.9 C478.2 371.6 492.2 370.2 493.5 376.9 C494.8 383.6 477.2 387.2 468.5 401.9 C459.8 416.6 462.3 418.6 461.0 431.9 C459.7 445.2 468.2 445.2 463.5 451.9 C458.8 458.6 452.8 458.2 443.5 456.9 C434.2 455.6 432.5 454.9 428.5 446.9 C424.5 438.9 425.8 440.2 428.5 426.9 Z" fill="#94cfc5" stroke="none"/>
<path d="M428.5 446.9 C431.2 446.2 434.2 455.6 443.5 456.9 C452.8 458.2 451.5 454.6 463.5 451.9 C475.5 449.2 483.2 444.2 488.5 446.9 C493.8 449.6 492.8 455.9 483.5 461.9 C474.2 467.9 466.8 470.1 453.5 469.4 C440.2 468.7 440.2 465.4 433.5 459.4 C426.8 453.4 425.8 447.6 428.5 446.9 Z" fill="#e6e6e6" stroke="none"/>
<path d="M496.0 446.9 C494.0 436.2 495.7 433.9 501.0 421.9 C506.3 409.9 506.0 409.2 516.0 401.9 C526.0 394.6 527.2 394.4 538.5 394.4 C549.8 394.4 550.5 393.2 558.5 401.9 C566.5 410.6 565.8 412.2 568.5 426.9 C571.2 441.6 572.5 444.9 568.5 456.9 C564.5 468.9 564.8 469.2 553.5 471.9 C542.2 474.6 538.0 469.6 526.0 466.9 C514.0 464.2 516.5 467.2 508.5 461.9 C500.5 456.6 498.0 457.6 496.0 446.9 Z" fill="#94cfc5" stroke="none"/>
<path d="M524.5 417.9 C528.8 420.3 532.4 429.9 533.5 441.9 C534.6 453.9 532.2 460.2 528.5 462.9 C524.8 465.6 522.4 459.9 519.5 451.9 C516.6 443.9 516.2 442.0 517.5 432.9 C518.8 423.8 520.2 415.5 524.5 417.9 Z" fill="#f1f1f1" stroke="none"/>
<path d="M496.0 461.9 C500.0 460.6 508.2 471.7 523.5 474.4 C538.8 477.1 548.2 469.2 553.5 471.9 C558.8 474.6 555.5 482.4 543.5 484.4 C531.5 486.4 521.2 485.4 508.5 479.4 C495.8 473.4 492.0 463.2 496.0 461.9 Z" fill="#e6e6e6" stroke="none"/>
<path d="M568.5 426.9 C571.2 407.6 573.2 409.4 578.5 409.4 C583.8 409.4 583.2 411.6 588.5 426.9 C593.8 442.2 599.8 449.6 598.5 466.9 C597.2 484.2 591.5 487.9 583.5 491.9 C575.5 495.9 572.5 499.2 568.5 481.9 C564.5 464.6 565.8 446.2 568.5 426.9 Z" fill="#e6e6e6" stroke="none"/>
<path d="M581.0 409.4 C582.3 402.7 588.5 403.6 598.5 406.9 C608.5 410.2 611.2 411.2 618.5 421.9 C625.8 432.6 624.7 436.2 626.0 446.9 C627.3 457.6 630.2 456.6 623.5 461.9 C616.8 467.2 609.0 474.9 601.0 466.9 C593.0 458.9 598.8 447.2 593.5 431.9 C588.2 416.6 579.7 416.1 581.0 409.4 Z" fill="#94cfc5" stroke="none"/>
<path d="M558.5 481.9 C559.8 479.9 567.5 493.1 583.5 494.4 C599.5 495.7 610.5 484.9 618.5 486.9 C626.5 488.9 624.2 497.9 613.5 501.9 C602.8 505.9 593.2 507.2 578.5 501.9 C563.8 496.6 557.2 483.9 558.5 481.9 Z" fill="#e6e6e6" stroke="none"/>
<path d="M623.5 416.9 C628.8 415.6 635.2 417.6 648.5 426.9 C661.8 436.2 664.2 435.9 673.5 451.9 C682.8 467.9 682.2 469.6 683.5 486.9 C684.8 504.2 685.2 505.6 678.5 516.9 C671.8 528.2 671.8 528.1 658.5 529.4 C645.2 530.7 640.5 527.9 628.5 521.9 C616.5 515.9 612.2 512.2 613.5 506.9 C614.8 501.6 624.2 508.6 633.5 501.9 C642.8 495.2 645.2 495.2 648.5 481.9 C651.8 468.6 651.3 465.2 646.0 451.9 C640.7 438.6 634.5 441.2 628.5 431.9 C622.5 422.6 618.2 418.2 623.5 416.9 Z" fill="#e6e6e6" stroke="none"/>
<path d="M618.5 501.9 C622.5 503.2 626.8 509.6 633.5 506.9 C640.2 504.2 640.8 495.9 643.5 491.9" stroke="#94cfc5" stroke-width="4.0"/>
</g>
<g id="ligand2" transform="translate(337.6,50.75) scale(0.5)" filter="url(#soft)">
<line x1="135.8" y1="113.3" x2="148.1" y2="110.1" stroke="#5fa79b" stroke-width="5.4" stroke-linecap="round"/>
<line x1="148.1" y1="110.1" x2="160.0" y2="114.4" stroke="#5fa79b" stroke-width="5.4" stroke-linecap="round"/>
<line x1="160.0" y1="114.4" x2="159.4" y2="122.4" stroke="#5fa79b" stroke-width="5.4" stroke-linecap="round"/>
<line x1="159.4" y1="122.4" x2="148.1" y2="126.8" stroke="#5fa79b" stroke-width="5.4" stroke-linecap="round"/>
<line x1="148.1" y1="126.8" x2="135.8" y2="120.8" stroke="#5fa79b" stroke-width="5.4" stroke-linecap="round"/>
<line x1="135.8" y1="120.8" x2="135.8" y2="113.3" stroke="#5fa79b" stroke-width="5.4" stroke-linecap="round"/>
<line x1="159.4" y1="122.4" x2="176.1" y2="127.8" stroke="#5fa79b" stroke-width="5.4" stroke-linecap="round"/>
<circle cx="176.1" cy="127.8" r="2.70" fill="#5fa79b"/><circle cx="185.8" cy="123.0" r="2.70" fill="#2f7ef4"/><line x1="176.1" y1="127.8" x2="181.1" y2="125.3" stroke="#5fa79b" stroke-width="5.4" stroke-linecap="butt"/><line x1="180.9" y1="125.4" x2="185.8" y2="123.0" stroke="#2f7ef4" stroke-width="5.4" stroke-linecap="butt"/>
<circle cx="185.8" cy="123.0" r="2.70" fill="#2f7ef4"/><circle cx="195.0" cy="129.4" r="2.70" fill="#5fa79b"/><line x1="185.8" y1="123.0" x2="190.5" y2="126.3" stroke="#2f7ef4" stroke-width="5.4" stroke-linecap="butt"/><line x1="190.4" y1="126.2" x2="195.0" y2="129.4" stroke="#5fa79b" stroke-width="5.4" stroke-linecap="butt"/>
<circle cx="195.0" cy="129.4" r="2.70" fill="#5fa79b"/><circle cx="193.9" cy="138.1" r="2.70" fill="#2f7ef4"/><line x1="195.0" y1="129.4" x2="194.4" y2="133.9" stroke="#5fa79b" stroke-width="5.4" stroke-linecap="butt"/><line x1="194.4" y1="133.8" x2="193.9" y2="138.1" stroke="#2f7ef4" stroke-width="5.4" stroke-linecap="butt"/>
<circle cx="193.9" cy="138.1" r="2.70" fill="#2f7ef4"/><circle cx="177.7" cy="137.5" r="2.70" fill="#5fa79b"/><line x1="193.9" y1="138.1" x2="185.7" y2="137.8" stroke="#2f7ef4" stroke-width="5.4" stroke-linecap="butt"/><line x1="185.8" y1="137.8" x2="177.7" y2="137.5" stroke="#5fa79b" stroke-width="5.4" stroke-linecap="butt"/>
<line x1="177.7" y1="137.5" x2="176.1" y2="127.8" stroke="#5fa79b" stroke-width="5.4" stroke-linecap="round"/>
<circle cx="195.0" cy="129.4" r="2.70" fill="#5fa79b"/><circle cx="210.0" cy="130.0" r="2.70" fill="#2f7ef4"/><line x1="195.0" y1="129.4" x2="202.6" y2="129.7" stroke="#5fa79b" stroke-width="5.4" stroke-linecap="butt"/><line x1="202.5" y1="129.7" x2="210.0" y2="130.0" stroke="#2f7ef4" stroke-width="5.4" stroke-linecap="butt"/>
<circle cx="210.0" cy="130.0" r="2.70" fill="#2f7ef4"/><circle cx="218.7" cy="136.4" r="2.70" fill="#5fa79b"/><line x1="210.0" y1="130.0" x2="214.5" y2="133.3" stroke="#2f7ef4" stroke-width="5.4" stroke-linecap="butt"/><line x1="214.3" y1="133.2" x2="218.7" y2="136.4" stroke="#5fa79b" stroke-width="5.4" stroke-linecap="butt"/>
<line x1="218.7" y1="136.4" x2="215.4" y2="146.7" stroke="#5fa79b" stroke-width="5.4" stroke-linecap="round"/>
<line x1="215.4" y1="146.7" x2="201.4" y2="147.7" stroke="#5fa79b" stroke-width="5.4" stroke-linecap="round"/>
<circle cx="201.4" cy="147.7" r="2.70" fill="#5fa79b"/><circle cx="193.9" cy="138.1" r="2.70" fill="#2f7ef4"/><line x1="201.4" y1="147.7" x2="197.6" y2="142.8" stroke="#5fa79b" stroke-width="5.4" stroke-linecap="butt"/><line x1="197.7" y1="142.9" x2="193.9" y2="138.1" stroke="#2f7ef4" stroke-width="5.4" stroke-linecap="butt"/>
<circle cx="218.7" cy="136.4" r="2.70" fill="#5fa79b"/><circle cx="231.9" cy="136.4" r="2.70" fill="#2f7ef4"/><line x1="218.7" y1="136.4" x2="225.5" y2="136.4" stroke="#5fa79b" stroke-width="5.4" stroke-linecap="butt"/><line x1="225.3" y1="136.4" x2="231.9" y2="136.4" stroke="#2f7ef4" stroke-width="5.4" stroke-linecap="butt"/>
<circle cx="231.9" cy="136.4" r="2.70" fill="#2f7ef4"/><circle cx="241.8" cy="147.3" r="2.70" fill="#5fa79b"/><line x1="231.9" y1="136.4" x2="237.0" y2="142.0" stroke="#2f7ef4" stroke-width="5.4" stroke-linecap="butt"/><line x1="236.9" y1="141.9" x2="241.8" y2="147.3" stroke="#5fa79b" stroke-width="5.4" stroke-linecap="butt"/>
<circle cx="241.8" cy="147.3" r="2.70" fill="#5fa79b"/><circle cx="237.9" cy="159.3" r="2.70" fill="#ec5f5c"/><line x1="241.8" y1="147.3" x2="239.8" y2="153.4" stroke="#5fa79b" stroke-width="5.4" stroke-linecap="butt"/><line x1="239.9" y1="153.3" x2="237.9" y2="159.3" stroke="#ec5f5c" stroke-width="5.4" stroke-linecap="butt"/>
<line x1="241.8" y1="147.3" x2="256.7" y2="144.4" stroke="#5fa79b" stroke-width="5.4" stroke-linecap="round"/>
<line x1="256.7" y1="144.4" x2="260.7" y2="134.4" stroke="#5fa79b" stroke-width="5.4" stroke-linecap="round"/>
<line x1="260.7" y1="134.4" x2="274.6" y2="137.4" stroke="#5fa79b" stroke-width="5.4" stroke-linecap="round"/>
<circle cx="274.6" cy="137.4" r="2.70" fill="#5fa79b"/><circle cx="275.6" cy="150.3" r="2.70" fill="#2f7ef4"/><line x1="274.6" y1="137.4" x2="275.1" y2="144.0" stroke="#5fa79b" stroke-width="5.4" stroke-linecap="butt"/><line x1="275.1" y1="143.9" x2="275.6" y2="150.3" stroke="#2f7ef4" stroke-width="5.4" stroke-linecap="butt"/>
<line x1="275.6" y1="150.3" x2="262.7" y2="157.3" stroke="#2f7ef4" stroke-width="5.4" stroke-linecap="round"/>
<circle cx="262.7" cy="157.3" r="2.70" fill="#2f7ef4"/><circle cx="256.7" cy="144.4" r="2.70" fill="#5fa79b"/><line x1="262.7" y1="157.3" x2="259.6" y2="150.7" stroke="#2f7ef4" stroke-width="5.4" stroke-linecap="butt"/><line x1="259.7" y1="150.9" x2="256.7" y2="144.4" stroke="#5fa79b" stroke-width="5.4" stroke-linecap="butt"/>
<circle cx="262.7" cy="157.3" r="2.70" fill="#2f7ef4"/><circle cx="259.7" cy="171.2" r="2.70" fill="#5fa79b"/><line x1="262.7" y1="157.3" x2="261.2" y2="164.4" stroke="#2f7ef4" stroke-width="5.4" stroke-linecap="butt"/><line x1="261.2" y1="164.2" x2="259.7" y2="171.2" stroke="#5fa79b" stroke-width="5.4" stroke-linecap="butt"/>
<line x1="260.7" y1="134.4" x2="255.7" y2="119.6" stroke="#5fa79b" stroke-width="5.4" stroke-linecap="round"/>
<circle cx="255.7" cy="119.6" r="2.70" fill="#5fa79b"/><circle cx="242.8" cy="118.2" r="2.70" fill="#ec5f5c"/><line x1="255.7" y1="119.6" x2="249.1" y2="118.9" stroke="#5fa79b" stroke-width="5.4" stroke-linecap="butt"/><line x1="249.2" y1="118.9" x2="242.8" y2="118.2" stroke="#ec5f5c" stroke-width="5.4" stroke-linecap="butt"/>
<circle cx="255.7" cy="119.6" r="2.70" fill="#5fa79b"/><circle cx="266.7" cy="111.2" r="2.70" fill="#2f7ef4"/><line x1="255.7" y1="119.6" x2="261.3" y2="115.3" stroke="#5fa79b" stroke-width="5.4" stroke-linecap="butt"/><line x1="261.2" y1="115.4" x2="266.7" y2="111.2" stroke="#2f7ef4" stroke-width="5.4" stroke-linecap="butt"/>
<circle cx="266.7" cy="111.2" r="2.70" fill="#2f7ef4"/><circle cx="262.7" cy="96.7" r="2.70" fill="#5fa79b"/><line x1="266.7" y1="111.2" x2="264.7" y2="103.8" stroke="#2f7ef4" stroke-width="5.4" stroke-linecap="butt"/><line x1="264.7" y1="104.0" x2="262.7" y2="96.7" stroke="#5fa79b" stroke-width="5.4" stroke-linecap="butt"/>
<line x1="262.7" y1="96.7" x2="267.6" y2="87.8" stroke="#5fa79b" stroke-width="5.4" stroke-linecap="round"/>
<circle cx="267.6" cy="87.8" r="2.70" fill="#5fa79b"/><circle cx="268.2" cy="73.9" r="2.70" fill="#2f7ef4"/><line x1="267.6" y1="87.8" x2="267.9" y2="80.7" stroke="#5fa79b" stroke-width="5.4" stroke-linecap="butt"/><line x1="267.9" y1="80.8" x2="268.2" y2="73.9" stroke="#2f7ef4" stroke-width="5.4" stroke-linecap="butt"/>
<circle cx="268.2" cy="73.9" r="2.70" fill="#2f7ef4"/><circle cx="273.2" cy="70.9" r="2.70" fill="#5fa79b"/><line x1="268.2" y1="73.9" x2="270.8" y2="72.3" stroke="#2f7ef4" stroke-width="5.4" stroke-linecap="butt"/><line x1="270.7" y1="72.4" x2="273.2" y2="70.9" stroke="#5fa79b" stroke-width="5.4" stroke-linecap="butt"/>
<circle cx="273.2" cy="70.9" r="2.70" fill="#5fa79b"/><circle cx="278.2" cy="84.2" r="2.70" fill="#ec5f5c"/><line x1="273.2" y1="70.9" x2="275.8" y2="77.7" stroke="#5fa79b" stroke-width="5.4" stroke-linecap="butt"/><line x1="275.7" y1="77.6" x2="278.2" y2="84.2" stroke="#ec5f5c" stroke-width="5.4" stroke-linecap="butt"/>
<circle cx="278.2" cy="84.2" r="2.70" fill="#ec5f5c"/><circle cx="276.0" cy="93.7" r="2.70" fill="#5fa79b"/><line x1="278.2" y1="84.2" x2="277.1" y2="89.1" stroke="#ec5f5c" stroke-width="5.4" stroke-linecap="butt"/><line x1="277.1" y1="89.0" x2="276.0" y2="93.7" stroke="#5fa79b" stroke-width="5.4" stroke-linecap="butt"/>
<line x1="276.0" y1="93.7" x2="267.6" y2="87.8" stroke="#5fa79b" stroke-width="5.4" stroke-linecap="round"/>
</g>
<g id="boxview" clip-path="url(#boxclip)">
<rect x="1040" y="49" width="205" height="147" fill="#e0f0ed"/>
<g transform="translate(1030,40) scale(0.27315)" filter="url(#soft3)">
<path d="M230 30 L570 30 L545 110 L480 152 L420 130 L330 90 Z" fill="#d2eae6" opacity="1"/>
<path d="M560 55 L705 105 L672 285 L560 255 L528 160 Z" fill="#c8e5e0" opacity="1"/>
<path d="M40 95 L112 170 L112 330 L40 352 Z" fill="#d2eae6" opacity="1"/>
<path d="M178 165 L380 140 L402 240 L332 302 L180 302 Z" fill="#d2eae6" opacity="1"/>
<path d="M40 440 L200 440 L332 480 L332 575 L40 575 Z" fill="#d2eae6" opacity="1"/>
<path d="M360 400 L540 390 L562 575 L340 575 Z" fill="#d2eae6" opacity="1"/>
<path d="M600 300 L790 330 L790 425 L642 402 Z" fill="#d2eae6" opacity="1"/>
<path d="M680 430 L790 450 L790 575 L700 575 Z" fill="#d2eae6" opacity="1"/>
<path d="M40 30 L240 30 L330 90 L420 130 L382 152 L200 152 L172 200 L120 182 L58 100 Z" fill="#ffffff" opacity="1"/>
<path d="M112 185 L172 202 L165 300 L112 325 Z" fill="#f4f7f7" opacity="1"/>
<path d="M335 402 C380 380 440 380 470 420 C460 455 400 470 352 470 L332 575 L250 575 L232 470 Z" fill="#ffffff" opacity="1"/>
<path d="M640 180 L790 160 L790 330 L600 300 Z" fill="#f3f8f7" opacity="1"/>
<path d="M560 420 L680 430 L700 575 L562 575 Z" fill="#f6f9f9" opacity="1"/>
<path d="M442 258 L560 258 L560 398 L442 380 Z" fill="#f4f8f7" opacity="1"/>
<path d="M682 30 L790 30 L790 112 L702 102 Z" fill="#f1f6f5" opacity="1"/>
<path d="M60 330 C120 300 180 330 200 420 C210 480 240 520 300 540" fill="none" stroke="#eef3f2" stroke-width="26" stroke-linecap="round" stroke-linejoin="round"/>
<path d="M180 230 C230 170 330 170 370 240" fill="none" stroke="#e9f1ef" stroke-width="22" stroke-linecap="round" stroke-linejoin="round"/>
<path d="M560 270 C640 250 700 300 720 380" fill="none" stroke="#e7f2ef" stroke-width="26" stroke-linecap="round" stroke-linejoin="round"/>
<path d="M470 470 C520 430 580 440 600 520" fill="none" stroke="#e9f3f1" stroke-width="24" stroke-linecap="round" stroke-linejoin="round"/>
<path d="M640 62 C690 85 712 120 700 180 C692 230 680 260 668 290" fill="none" stroke="#f4f9f8" stroke-width="20" stroke-linecap="round" stroke-linejoin="round"/>
<path d="M620 330 C690 320 760 350 795 410" fill="none" stroke="#cfe8e4" stroke-width="26" stroke-linecap="round" stroke-linejoin="round"/>
<path d="M350 485 C420 450 520 455 565 530" fill="none" stroke="#cbe6e1" stroke-width="30" stroke-linecap="round" stroke-linejoin="round"/>
<path d="M60 470 C140 450 250 470 320 530" fill="none" stroke="#cde7e2" stroke-width="30" stroke-linecap="round" stroke-linejoin="round"/>
</g>
<g id="boxsticks" filter="url(#soft)" fill="none" stroke-linecap="round" stroke-linejoin="round">
<polyline points="1098.0,92.5 1100.6,97.6 1105.7,104.7" stroke="#b4b4b4" stroke-width="4.9"/>
<polyline points="1098.0,92.5 1100.6,97.6 1105.7,104.7" stroke="#ececec" stroke-width="3.5"/>
<polyline points="1107.0,95.1 1113.5,97.0" stroke="#5c9388" stroke-width="4.9"/>
<polyline points="1107.0,95.1 1113.5,97.0" stroke="#74b8ab" stroke-width="3.5"/>
<polyline points="1108.3,101.5 1113.5,102.8 1113.5,109.3" stroke="#5c9388" stroke-width="4.9"/>
<polyline points="1108.3,101.5 1113.5,102.8 1113.5,109.3" stroke="#74b8ab" stroke-width="3.5"/>
<polyline points="1112.2,93.8 1118.6,97.6" stroke="#b4b4b4" stroke-width="4.9"/>
<polyline points="1112.2,93.8 1118.6,97.6" stroke="#ececec" stroke-width="3.5"/>
<polyline points="1117.3,98.3 1126.4,97.6" stroke="#5c9388" stroke-width="4.9"/>
<polyline points="1117.3,98.3 1126.4,97.6" stroke="#74b8ab" stroke-width="3.5"/>
<polyline points="1126.4,97.0 1132.8,94.4" stroke="#bc6e6b" stroke-width="4.9"/>
<polyline points="1126.4,97.0 1132.8,94.4" stroke="#ec8a86" stroke-width="3.5"/>
<polyline points="1103.1,90.5 1108.3,91.4" stroke="#487cc2" stroke-width="4.9"/>
<polyline points="1103.1,90.5 1108.3,91.4" stroke="#5b9bf3" stroke-width="3.5"/>
<polyline points="1101.2,97.0 1106.4,100.2" stroke="#2160c0" stroke-width="4.9"/>
<polyline points="1101.2,97.0 1106.4,100.2" stroke="#2a78f0" stroke-width="3.5"/>
<polyline points="1106.0,105.6 1106.8,106.4" stroke="#2160c0" stroke-width="4.9"/>
<polyline points="1106.0,105.6 1106.8,106.4" stroke="#2a78f0" stroke-width="3.5"/>
<polyline points="1096.3,89.5 1097.2,90.6" stroke="#2160c0" stroke-width="5.9"/>
<polyline points="1096.3,89.5 1097.2,90.6" stroke="#2a78f0" stroke-width="4.5"/>
<polyline points="1143.8,88.3 1152.8,79.8 1159.5,84.6 1164.7,92.0" stroke="#5c9388" stroke-width="4.9"/>
<polyline points="1143.8,88.3 1152.8,79.8 1159.5,84.6 1164.7,92.0" stroke="#74b8ab" stroke-width="3.5"/>
<polyline points="1143.8,88.3 1146.0,93.0 1145.3,103.2 1143.8,109.2" stroke="#5c9388" stroke-width="4.9"/>
<polyline points="1143.8,88.3 1146.0,93.0 1145.3,103.2 1143.8,109.2" stroke="#74b8ab" stroke-width="3.5"/>
<polyline points="1152.8,79.8 1152.8,77.4" stroke="#bb4845" stroke-width="4.9"/>
<polyline points="1152.8,79.8 1152.8,77.4" stroke="#ea5b57" stroke-width="3.5"/>
<polyline points="1133.0,86.8 1138.6,88.2" stroke="#bb4845" stroke-width="4.9"/>
<polyline points="1133.0,86.8 1138.6,88.2" stroke="#ea5b57" stroke-width="3.5"/>
<polyline points="1138.6,88.2 1143.8,88.3" stroke="#5c9388" stroke-width="4.9"/>
<polyline points="1138.6,88.2 1143.8,88.3" stroke="#74b8ab" stroke-width="3.5"/>
<polyline points="1136.8,92.2 1140.5,93.6" stroke="#bb4845" stroke-width="4.9"/>
<polyline points="1136.8,92.2 1140.5,93.6" stroke="#ea5b57" stroke-width="3.5"/>
<polyline points="1142.3,94.3 1149.8,97.2 1146.8,104.7 1151.3,109.2" stroke="#b4b4b4" stroke-width="5.5"/>
<polyline points="1142.3,94.3 1149.8,97.2 1146.8,104.7 1151.3,109.2" stroke="#ececec" stroke-width="4.1"/>
<polyline points="1149.8,97.2 1161.7,89.8" stroke="#b4b4b4" stroke-width="5.1"/>
<polyline points="1149.8,97.2 1161.7,89.8" stroke="#ececec" stroke-width="3.7"/>
<polyline points="1155.7,93.5 1169.2,97.2" stroke="#bc6e6b" stroke-width="5.3"/>
<polyline points="1155.7,93.5 1169.2,97.2" stroke="#ec8a86" stroke-width="3.9"/>
<polyline points="1169.2,97.2 1173.2,98.6" stroke="#b4b4b4" stroke-width="4.9"/>
<polyline points="1169.2,97.2 1173.2,98.6" stroke="#dcdcdc" stroke-width="3.5"/>
<polyline points="1152.8,103.2 1160.2,100.2 1161.5,97.5" stroke="#bb4845" stroke-width="4.5"/>
<polyline points="1152.8,103.2 1160.2,100.2 1161.5,97.5" stroke="#ea5b57" stroke-width="3.1"/>
<polyline points="1155.7,109.9 1163.9,109.2 1166.2,103.2" stroke="#bb4845" stroke-width="4.7"/>
<polyline points="1155.7,109.9 1163.9,109.2 1166.2,103.2" stroke="#ea5b57" stroke-width="3.3"/>
<polyline points="1166.2,103.2 1169.2,100.2" stroke="#b4b4b4" stroke-width="4.9"/>
<polyline points="1166.2,103.2 1169.2,100.2" stroke="#ececec" stroke-width="3.5"/>
<polyline points="1151.3,109.2 1155.7,109.9" stroke="#b4b4b4" stroke-width="4.9"/>
<polyline points="1151.3,109.2 1155.7,109.9" stroke="#ececec" stroke-width="3.5"/>
<polyline points="1142.3,109.2 1148.3,115.1 1139.4,119.6" stroke="#2160c0" stroke-width="5.5"/>
<polyline points="1142.3,109.2 1148.3,115.1 1139.4,119.6" stroke="#2a78f0" stroke-width="4.1"/>
<polyline points="1134.1,113.6 1134.4,113.9" stroke="#bb4845" stroke-width="4.9"/>
<polyline points="1134.1,113.6 1134.4,113.9" stroke="#ea5b57" stroke-width="3.5"/>
<polyline points="1131.9,118.8 1132.2,119.0" stroke="#bb4845" stroke-width="4.9"/>
<polyline points="1131.9,118.8 1132.2,119.0" stroke="#ea5b57" stroke-width="3.5"/>
<polyline points="1134.9,116.6 1137.0,117.5" stroke="#5c9388" stroke-width="4.9"/>
<polyline points="1134.9,116.6 1137.0,117.5" stroke="#74b8ab" stroke-width="3.5"/>
<polyline points="1131.2,121.1 1139.4,119.6 1147.6,122.6 1143.8,131.5 1136.4,136.0 1128.9,136.0" stroke="#b4b4b4" stroke-width="5.3"/>
<polyline points="1131.2,121.1 1139.4,119.6 1147.6,122.6 1143.8,131.5 1136.4,136.0 1128.9,136.0" stroke="#ececec" stroke-width="3.9"/>
<polyline points="1147.6,122.6 1149.0,113.0" stroke="#b4b4b4" stroke-width="4.9"/>
<polyline points="1147.6,122.6 1149.0,113.0" stroke="#ececec" stroke-width="3.5"/>
<polyline points="1127.4,131.5 1136.4,127.8" stroke="#2160c0" stroke-width="4.9"/>
<polyline points="1127.4,131.5 1136.4,127.8" stroke="#2a78f0" stroke-width="3.5"/>
<polyline points="1137.9,136.0 1142.3,140.4 1146.0,133.0" stroke="#5c9388" stroke-width="4.9"/>
<polyline points="1137.9,136.0 1142.3,140.4 1146.0,133.0" stroke="#74b8ab" stroke-width="3.5"/>
<polyline points="1071.6,124.2 1071.6,138.5" stroke="#b4b4b4" stroke-width="4.5"/>
<polyline points="1071.6,124.2 1071.6,138.5" stroke="#ececec" stroke-width="3.1"/>
<polyline points="1071.6,140.6 1084.4,142.0 1090.8,127.8" stroke="#5c9388" stroke-width="4.9"/>
<polyline points="1071.6,140.6 1084.4,142.0 1090.8,127.8" stroke="#74b8ab" stroke-width="3.5"/>
<polyline points="1066.6,142.7 1059.5,155.5 1058.8,163.2" stroke="#b4b4b4" stroke-width="4.9"/>
<polyline points="1066.6,142.7 1059.5,155.5 1058.8,163.2" stroke="#ececec" stroke-width="3.5"/>
<polyline points="1073.0,148.4 1081.5,149.1 1085.1,142.7" stroke="#b4b4b4" stroke-width="4.9"/>
<polyline points="1073.0,148.4 1081.5,149.1 1085.1,142.7" stroke="#ececec" stroke-width="3.5"/>
<polyline points="1058.8,163.4 1058.8,164.3" stroke="#bb4845" stroke-width="4.9"/>
<polyline points="1058.8,163.4 1058.8,164.3" stroke="#ea5b57" stroke-width="3.5"/>
<polyline points="1063.5,157.5 1064.0,158.0" stroke="#bb4845" stroke-width="4.3"/>
<polyline points="1063.5,157.5 1064.0,158.0" stroke="#ea5b57" stroke-width="2.9"/>
<polyline points="1070.2,135.6 1068.0,142.0 1071.6,140.6" stroke="#2160c0" stroke-width="5.5"/>
<polyline points="1070.2,135.6 1068.0,142.0 1071.6,140.6" stroke="#2a78f0" stroke-width="4.1"/>
<polyline points="1088.0,137.0 1089.5,133.5" stroke="#b09933" stroke-width="3.5"/>
<polyline points="1088.0,137.0 1089.5,133.5" stroke="#dcc040" stroke-width="2.1"/>
<polyline points="1091.5,145.6 1107.2,138.5" stroke="#b4b4b4" stroke-width="4.9"/>
<polyline points="1091.5,145.6 1107.2,138.5" stroke="#ececec" stroke-width="3.5"/>
<polyline points="1100.0,128.5 1110.0,136.3 1116.4,137.0" stroke="#5c9388" stroke-width="4.9"/>
<polyline points="1100.0,128.5 1110.0,136.3 1116.4,137.0" stroke="#74b8ab" stroke-width="3.5"/>
<polyline points="1102.9,124.9 1107.2,128.5" stroke="#b09933" stroke-width="5.3"/>
<polyline points="1102.9,124.9 1107.2,128.5" stroke="#dcc040" stroke-width="3.9"/>
<polyline points="1089.4,150.6 1107.2,142.7 1111.4,135.6" stroke="#5c9388" stroke-width="4.9"/>
<polyline points="1089.4,150.6 1107.2,142.7 1111.4,135.6" stroke="#74b8ab" stroke-width="3.5"/>
<polyline points="1089.4,153.0 1089.4,154.5" stroke="#bb4845" stroke-width="5.3"/>
<polyline points="1089.4,153.0 1089.4,154.5" stroke="#ea5b57" stroke-width="3.9"/>
<polyline points="1095.8,159.8 1104.3,155.5 1111.4,159.1" stroke="#5c9388" stroke-width="4.9"/>
<polyline points="1095.8,159.8 1104.3,155.5 1111.4,159.1" stroke="#74b8ab" stroke-width="3.5"/>
<polyline points="1104.0,150.0 1106.0,156.0" stroke="#bc6e6b" stroke-width="4.3"/>
<polyline points="1104.0,150.0 1106.0,156.0" stroke="#ec8a86" stroke-width="2.9"/>
<polyline points="1110.0,146.3 1115.7,152.7" stroke="#2160c0" stroke-width="6.9"/>
<polyline points="1110.0,146.3 1115.7,152.7" stroke="#2a78f0" stroke-width="5.5"/>
<polyline points="1090.1,159.8 1095.8,163.4" stroke="#2160c0" stroke-width="5.5"/>
<polyline points="1090.1,159.8 1095.8,163.4" stroke="#2a78f0" stroke-width="4.1"/>
<polyline points="1112.5,142.5 1113.5,144.0" stroke="#bc6e6b" stroke-width="4.3"/>
<polyline points="1112.5,142.5 1113.5,144.0" stroke="#ec8a86" stroke-width="2.9"/>
<polyline points="1117.0,139.6 1117.4,141.0" stroke="#bb4845" stroke-width="3.9"/>
<polyline points="1117.0,139.6 1117.4,141.0" stroke="#ea5b57" stroke-width="2.5"/>
</g>
</g>
<rect x="1041.1" y="50.5" width="202" height="143.9" fill="none" stroke="#1e1e1e" stroke-width="1.4"/>
</svg>
</body></html>
